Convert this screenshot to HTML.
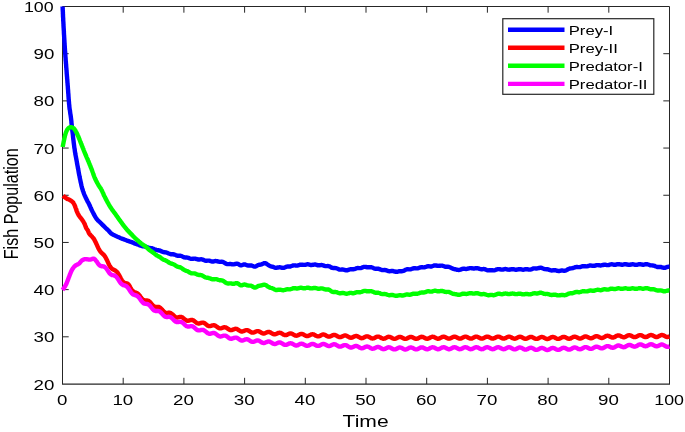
<!DOCTYPE html>
<html><head><meta charset="utf-8"><title>Fish Population</title>
<style>
html,body{margin:0;padding:0;background:#fff;}
body{width:685px;height:432px;overflow:hidden;}
svg{display:block;}
svg text{font-family:"Liberation Sans",sans-serif;fill:#000;}
</style></head>
<body>
<svg width="685" height="432" viewBox="0 0 685 432">
<rect x="0" y="0" width="685" height="432" fill="#fff"/>
<clipPath id="ax"><rect x="59.5" y="6.0" width="610.5" height="378.5"/></clipPath>
<path d="M62.5,384.0 L62.5,6.5 L669.5,6.5 L669.5,384.0" fill="none" stroke="#262626" stroke-width="1"/><line x1="62.0" y1="384.05" x2="670.0" y2="384.05" stroke="#262626" stroke-width="1.35"/>
<text transform="translate(62.10,405.40) scale(1.24,1)" font-size="15.1" text-anchor="middle">0</text>
<line x1="123.20" y1="384.0" x2="123.20" y2="377.8" stroke="#262626"/>
<line x1="123.20" y1="6.5" x2="123.20" y2="12.7" stroke="#262626"/>
<text transform="translate(122.80,405.40) scale(1.24,1)" font-size="15.1" text-anchor="middle">10</text>
<line x1="183.90" y1="384.0" x2="183.90" y2="377.8" stroke="#262626"/>
<line x1="183.90" y1="6.5" x2="183.90" y2="12.7" stroke="#262626"/>
<text transform="translate(183.50,405.40) scale(1.24,1)" font-size="15.1" text-anchor="middle">20</text>
<line x1="244.60" y1="384.0" x2="244.60" y2="377.8" stroke="#262626"/>
<line x1="244.60" y1="6.5" x2="244.60" y2="12.7" stroke="#262626"/>
<text transform="translate(244.20,405.40) scale(1.24,1)" font-size="15.1" text-anchor="middle">30</text>
<line x1="305.30" y1="384.0" x2="305.30" y2="377.8" stroke="#262626"/>
<line x1="305.30" y1="6.5" x2="305.30" y2="12.7" stroke="#262626"/>
<text transform="translate(304.90,405.40) scale(1.24,1)" font-size="15.1" text-anchor="middle">40</text>
<line x1="366.00" y1="384.0" x2="366.00" y2="377.8" stroke="#262626"/>
<line x1="366.00" y1="6.5" x2="366.00" y2="12.7" stroke="#262626"/>
<text transform="translate(365.60,405.40) scale(1.24,1)" font-size="15.1" text-anchor="middle">50</text>
<line x1="426.70" y1="384.0" x2="426.70" y2="377.8" stroke="#262626"/>
<line x1="426.70" y1="6.5" x2="426.70" y2="12.7" stroke="#262626"/>
<text transform="translate(426.30,405.40) scale(1.24,1)" font-size="15.1" text-anchor="middle">60</text>
<line x1="487.40" y1="384.0" x2="487.40" y2="377.8" stroke="#262626"/>
<line x1="487.40" y1="6.5" x2="487.40" y2="12.7" stroke="#262626"/>
<text transform="translate(487.00,405.40) scale(1.24,1)" font-size="15.1" text-anchor="middle">70</text>
<line x1="548.10" y1="384.0" x2="548.10" y2="377.8" stroke="#262626"/>
<line x1="548.10" y1="6.5" x2="548.10" y2="12.7" stroke="#262626"/>
<text transform="translate(547.70,405.40) scale(1.24,1)" font-size="15.1" text-anchor="middle">80</text>
<line x1="608.80" y1="384.0" x2="608.80" y2="377.8" stroke="#262626"/>
<line x1="608.80" y1="6.5" x2="608.80" y2="12.7" stroke="#262626"/>
<text transform="translate(608.40,405.40) scale(1.24,1)" font-size="15.1" text-anchor="middle">90</text>
<text transform="translate(669.10,405.40) scale(1.18,1)" font-size="15.1" text-anchor="middle">100</text>
<text transform="translate(54.30,389.60) scale(1.24,1)" font-size="15.1" text-anchor="end">20</text>
<line x1="62.5" y1="336.81" x2="68.7" y2="336.81" stroke="#262626"/>
<line x1="669.5" y1="336.81" x2="663.3" y2="336.81" stroke="#262626"/>
<text transform="translate(54.30,342.41) scale(1.24,1)" font-size="15.1" text-anchor="end">30</text>
<line x1="62.5" y1="289.62" x2="68.7" y2="289.62" stroke="#262626"/>
<line x1="669.5" y1="289.62" x2="663.3" y2="289.62" stroke="#262626"/>
<text transform="translate(54.30,295.23) scale(1.24,1)" font-size="15.1" text-anchor="end">40</text>
<line x1="62.5" y1="242.44" x2="68.7" y2="242.44" stroke="#262626"/>
<line x1="669.5" y1="242.44" x2="663.3" y2="242.44" stroke="#262626"/>
<text transform="translate(54.30,248.04) scale(1.24,1)" font-size="15.1" text-anchor="end">50</text>
<line x1="62.5" y1="195.25" x2="68.7" y2="195.25" stroke="#262626"/>
<line x1="669.5" y1="195.25" x2="663.3" y2="195.25" stroke="#262626"/>
<text transform="translate(54.30,200.85) scale(1.24,1)" font-size="15.1" text-anchor="end">60</text>
<line x1="62.5" y1="148.06" x2="68.7" y2="148.06" stroke="#262626"/>
<line x1="669.5" y1="148.06" x2="663.3" y2="148.06" stroke="#262626"/>
<text transform="translate(54.30,153.66) scale(1.24,1)" font-size="15.1" text-anchor="end">70</text>
<line x1="62.5" y1="100.88" x2="68.7" y2="100.88" stroke="#262626"/>
<line x1="669.5" y1="100.88" x2="663.3" y2="100.88" stroke="#262626"/>
<text transform="translate(54.30,106.47) scale(1.24,1)" font-size="15.1" text-anchor="end">80</text>
<line x1="62.5" y1="53.69" x2="68.7" y2="53.69" stroke="#262626"/>
<line x1="669.5" y1="53.69" x2="663.3" y2="53.69" stroke="#262626"/>
<text transform="translate(54.30,59.29) scale(1.24,1)" font-size="15.1" text-anchor="end">90</text>
<text transform="translate(53.60,12.10) scale(1.18,1)" font-size="15.1" text-anchor="end">100</text>
<g clip-path="url(#ax)">
<path d="M62.6,6.5 L62.6,7.3 L62.7,8.1 L62.7,8.9 L62.7,9.7 L62.8,10.5 L62.8,11.3 L62.9,12.1 L62.9,13.0 L62.9,13.8 L63.0,14.6 L63.0,15.4 L63.0,16.2 L63.1,17.0 L63.1,17.8 L63.2,18.6 L63.2,19.4 L63.2,20.2 L63.3,21.0 L63.3,21.8 L63.4,22.6 L63.4,23.4 L63.5,24.2 L63.5,25.0 L63.5,25.8 L63.6,26.7 L63.6,27.5 L63.7,28.3 L63.7,29.1 L63.8,29.9 L63.8,30.7 L63.9,31.5 L63.9,32.3 L63.9,33.1 L64.0,33.9 L64.0,34.7 L64.1,35.5 L64.1,36.3 L64.2,37.1 L64.2,37.9 L64.3,38.7 L64.3,39.5 L64.4,40.3 L64.4,41.2 L64.5,42.0 L64.5,42.8 L64.6,43.6 L64.6,44.4 L64.7,45.2 L64.7,46.0 L64.8,46.8 L64.8,47.6 L64.9,48.4 L64.9,49.2 L65.0,50.0 L65.0,50.8 L65.1,51.6 L65.2,52.4 L65.2,53.2 L65.3,54.0 L65.3,54.8 L65.4,55.6 L65.4,56.5 L65.5,57.3 L65.6,58.1 L65.6,58.9 L65.7,59.7 L65.7,60.5 L65.8,61.3 L65.9,62.1 L65.9,62.9 L66.0,63.7 L66.1,64.5 L66.1,65.3 L66.2,66.1 L66.2,66.9 L66.3,67.7 L66.4,68.5 L66.4,69.3 L66.5,70.1 L66.6,70.9 L66.6,71.7 L66.7,72.5 L66.7,73.3 L66.8,74.2 L66.9,75.0 L66.9,75.8 L67.0,76.6 L67.1,77.4 L67.1,78.2 L67.2,79.0 L67.3,79.8 L67.3,80.6 L67.4,81.4 L67.4,82.2 L67.5,83.0 L67.6,83.8 L67.6,84.6 L67.7,85.4 L67.8,86.2 L67.8,87.0 L67.9,87.8 L67.9,88.6 L68.0,89.4 L68.1,90.2 L68.1,91.1 L68.2,91.9 L68.2,92.7 L68.3,93.5 L68.4,94.3 L68.4,95.1 L68.5,95.9 L68.5,96.7 L68.6,97.5 L68.6,98.3 L68.7,99.1 L68.8,99.9 L68.8,100.7 L68.9,101.5 L69.0,102.3 L69.0,103.1 L69.1,103.9 L69.2,104.7 L69.3,105.5 L69.3,106.3 L69.4,107.1 L69.5,107.9 L69.6,108.7 L69.7,109.5 L69.9,110.3 L70.0,111.1 L70.1,111.9 L70.2,112.7 L70.3,113.5 L70.4,114.3 L70.6,115.1 L70.7,115.9 L70.8,116.7 L70.9,117.5 L71.0,118.3 L71.1,119.1 L71.2,119.9 L71.3,120.7 L71.4,121.5 L71.4,122.3 L71.5,123.1 L71.6,123.9 L71.7,124.7 L71.8,125.5 L71.9,126.3 L72.0,127.1 L72.1,127.9 L72.2,128.8 L72.3,129.6 L72.3,130.4 L72.4,131.2 L72.5,132.0 L72.6,132.8 L72.7,133.6 L72.8,134.4 L72.9,135.2 L73.0,136.0 L73.0,136.8 L73.1,137.6 L73.2,138.4 L73.3,139.2 L73.4,140.0 L73.5,140.8 L73.6,141.6 L73.7,142.4 L73.8,143.2 L73.9,144.0 L74.0,144.8 L74.1,145.6 L74.2,146.4 L74.3,147.2 L74.4,148.0 L74.6,148.8 L74.7,149.6 L74.8,150.4 L74.9,151.2 L75.0,152.0 L75.2,152.8 L75.3,153.6 L75.4,154.4 L75.6,155.2 L75.7,156.0 L75.9,156.7 L76.0,157.5 L76.2,158.3 L76.3,159.1 L76.5,159.9 L76.6,160.7 L76.8,161.5 L76.9,162.3 L77.0,163.1 L77.2,163.9 L77.3,164.7 L77.5,165.5 L77.6,166.3 L77.8,167.1 L77.9,167.9 L78.1,168.7 L78.2,169.4 L78.4,170.2 L78.5,171.0 L78.6,171.8 L78.8,172.6 L78.9,173.4 L79.1,174.2 L79.2,175.0 L79.4,175.8 L79.6,176.6 L79.7,177.4 L79.9,178.2 L80.0,179.0 L80.2,179.7 L80.4,180.5 L80.5,181.3 L80.7,182.1 L80.9,182.9 L81.1,183.7 L81.2,184.5 L81.4,185.3 L81.6,186.1 L81.8,186.8 L82.0,187.6 L82.2,188.4 L82.5,189.2 L82.7,189.9 L82.9,190.7 L83.2,191.5 L83.5,192.2 L83.7,193.0 L84.0,193.7 L84.3,194.5 L84.6,195.2 L85.0,196.0 L85.3,196.7 L85.6,197.5 L86.0,198.2 L86.3,198.9 L86.7,199.6 L87.0,200.3 L87.4,201.1 L87.8,201.8 L88.2,202.5 L88.6,203.2 L88.9,203.9 L89.3,204.6 L89.6,205.4 L90.0,206.1 L90.3,206.8 L90.6,207.6 L90.9,208.3 L91.3,209.1 L91.6,209.8 L92.0,210.5 L92.3,211.2 L92.7,212.0 L93.1,212.7 L93.4,213.4 L93.8,214.1 L94.2,214.9 L94.6,215.6 L95.0,216.3 L95.4,217.0 L95.8,217.7 L96.2,218.3 L96.7,219.0 L97.2,219.6 L97.7,220.2 L98.3,220.7 L98.9,221.3 L99.5,221.9 L100.1,222.4 L100.7,223.0 L101.2,223.5 L101.8,224.1 L102.4,224.7 L102.9,225.3 L103.5,225.8 L104.1,226.4 L104.7,227.0 L105.2,227.5 L105.8,228.1 L106.4,228.6 L107.0,229.2 L107.6,229.7 L108.2,230.3 L108.8,230.9 L109.3,231.5 L109.8,232.1 L110.4,232.7 L110.9,233.3 L111.6,233.7 L112.2,234.2 L112.9,234.6 L113.6,234.9 L114.4,235.3 L115.1,235.6 L115.9,236.0 L116.6,236.3 L117.3,236.7 L118.1,237.0 L118.8,237.3 L119.5,237.6 L120.3,238.0 L121.0,238.3 L121.8,238.6 L122.5,238.9 L123.3,239.1 L124.0,239.4 L124.8,239.7 L125.6,240.0 L126.3,240.3 L127.1,240.6 L127.8,240.9 L128.6,241.1 L129.4,241.4 L130.1,241.6 L130.9,241.9 L131.6,242.1 L132.4,242.4 L133.1,242.8 L133.9,243.1 L134.6,243.5 L135.4,243.8 L136.1,244.0 L136.9,244.3 L137.6,244.5 L138.4,244.8 L139.1,245.1 L139.9,245.4 L140.7,245.7 L141.5,245.9 L142.2,246.1 L143.0,246.3 L143.8,246.4 L144.6,246.5 L145.4,246.6 L146.2,246.8 L147.0,247.1 L147.8,247.4 L148.5,247.6 L149.3,247.8 L150.1,248.0 L150.9,248.1 L151.7,248.2 L152.4,248.4 L153.2,248.6 L154.0,249.0 L154.7,249.3 L155.5,249.6 L156.3,249.9 L157.1,250.1 L157.8,250.2 L158.6,250.3 L159.4,250.5 L160.2,250.7 L160.9,251.1 L161.7,251.4 L162.5,251.8 L163.2,252.0 L164.0,252.2 L164.8,252.3 L165.6,252.4 L166.3,252.5 L167.1,252.8 L167.9,253.1 L168.7,253.5 L169.5,253.8 L170.2,254.1 L171.0,254.2 L171.8,254.2 L172.6,254.2 L173.4,254.3 L174.2,254.5 L175.0,254.8 L175.7,255.1 L176.5,255.4 L177.3,255.7 L178.1,255.7 L178.9,255.7 L179.7,255.7 L180.5,255.7 L181.3,256.0 L182.1,256.3 L182.8,256.7 L183.6,257.1 L184.4,257.4 L185.2,257.5 L186.0,257.5 L186.7,257.5 L187.5,257.6 L188.3,257.8 L189.1,258.1 L189.9,258.5 L190.7,258.8 L191.5,258.9 L192.3,258.9 L193.1,258.7 L193.9,258.6 L194.7,258.6 L195.5,258.7 L196.3,259.0 L197.1,259.2 L197.9,259.5 L198.7,259.5 L199.5,259.5 L200.3,259.4 L201.1,259.3 L201.9,259.4 L202.7,259.6 L203.5,259.9 L204.3,260.3 L205.1,260.6 L205.9,260.7 L206.7,260.7 L207.5,260.6 L208.3,260.6 L209.1,260.6 L209.9,260.8 L210.7,261.1 L211.5,261.3 L212.3,261.5 L213.1,261.5 L213.9,261.3 L214.7,261.1 L215.5,261.0 L216.3,261.1 L217.1,261.2 L218.0,261.5 L218.8,261.7 L219.6,261.9 L220.3,261.9 L221.1,261.8 L221.9,261.8 L222.7,261.9 L223.5,262.2 L224.2,262.6 L225.0,263.1 L225.8,263.6 L226.6,263.9 L227.3,264.1 L228.1,264.1 L228.9,264.1 L229.7,264.0 L230.5,264.0 L231.3,264.1 L232.1,264.3 L232.9,264.4 L233.7,264.4 L234.5,264.2 L235.3,264.0 L236.1,263.7 L236.9,263.6 L237.7,263.8 L238.5,264.2 L239.3,264.7 L240.0,265.2 L240.8,265.4 L241.6,265.3 L242.4,265.0 L243.2,264.6 L244.0,264.4 L244.8,264.5 L245.6,264.7 L246.4,265.0 L247.2,265.4 L248.0,265.5 L248.8,265.5 L249.6,265.5 L250.4,265.5 L251.2,265.5 L252.0,265.7 L252.8,266.0 L253.6,266.4 L254.4,266.6 L255.2,266.6 L256.0,266.3 L256.7,265.9 L257.5,265.4 L258.3,265.0 L259.0,264.8 L259.8,264.7 L260.6,264.6 L261.3,264.4 L262.1,264.1 L262.9,263.7 L263.6,263.4 L264.4,263.1 L265.2,263.1 L265.9,263.4 L266.7,263.9 L267.4,264.5 L268.2,265.0 L268.9,265.4 L269.6,265.8 L270.3,266.2 L270.9,266.4 L271.7,266.6 L272.4,266.7 L273.2,266.9 L274.0,267.3 L274.8,267.6 L275.6,267.8 L276.4,267.9 L277.2,267.7 L278.0,267.5 L278.8,267.4 L279.7,267.3 L280.5,267.4 L281.3,267.6 L282.1,267.8 L282.9,267.9 L283.7,267.8 L284.5,267.6 L285.3,267.2 L286.1,266.9 L286.8,266.6 L287.6,266.5 L288.4,266.5 L289.2,266.5 L290.0,266.5 L290.8,266.3 L291.6,266.0 L292.4,265.7 L293.2,265.5 L294.0,265.4 L294.8,265.4 L295.6,265.5 L296.4,265.6 L297.2,265.6 L298.0,265.4 L298.8,265.1 L299.6,264.9 L300.4,264.6 L301.2,264.6 L302.0,264.7 L302.8,264.8 L303.6,264.9 L304.5,264.9 L305.3,264.8 L306.1,264.6 L306.9,264.4 L307.7,264.3 L308.5,264.4 L309.3,264.6 L310.1,264.8 L310.9,265.0 L311.7,265.0 L312.5,264.9 L313.3,264.7 L314.1,264.6 L314.9,264.5 L315.7,264.7 L316.5,264.9 L317.4,265.2 L318.2,265.3 L319.0,265.3 L319.8,265.2 L320.6,265.1 L321.4,265.0 L322.2,265.1 L323.0,265.3 L323.8,265.6 L324.6,265.9 L325.4,266.1 L326.2,266.1 L327.0,266.1 L327.8,266.0 L328.5,266.1 L329.3,266.3 L330.1,266.7 L330.9,267.1 L331.6,267.6 L332.4,267.9 L333.2,268.0 L334.0,268.1 L334.8,268.0 L335.5,268.1 L336.3,268.2 L337.1,268.5 L337.9,268.9 L338.7,269.3 L339.5,269.5 L340.3,269.6 L341.1,269.6 L341.9,269.5 L342.7,269.5 L343.5,269.6 L344.3,269.8 L345.1,270.1 L345.9,270.2 L346.7,270.3 L347.5,270.2 L348.3,269.9 L349.1,269.6 L349.9,269.4 L350.7,269.3 L351.5,269.3 L352.3,269.3 L353.1,269.4 L353.9,269.2 L354.7,269.0 L355.5,268.7 L356.3,268.3 L357.1,268.1 L357.9,268.0 L358.7,268.1 L359.5,268.1 L360.3,268.1 L361.1,268.0 L361.9,267.7 L362.7,267.3 L363.5,267.0 L364.3,266.9 L365.1,266.9 L365.9,267.0 L366.7,267.2 L367.5,267.3 L368.3,267.3 L369.1,267.3 L369.9,267.2 L370.7,267.1 L371.4,267.2 L372.2,267.5 L373.0,267.9 L373.8,268.3 L374.6,268.6 L375.4,268.7 L376.2,268.7 L377.0,268.7 L377.8,268.7 L378.6,268.8 L379.4,269.1 L380.2,269.4 L381.0,269.7 L381.8,270.0 L382.6,270.1 L383.4,270.1 L384.2,270.0 L384.9,270.0 L385.7,270.1 L386.5,270.4 L387.3,270.7 L388.1,271.0 L388.9,271.2 L389.7,271.2 L390.5,271.1 L391.3,271.0 L392.1,270.9 L393.0,271.0 L393.8,271.3 L394.6,271.5 L395.4,271.8 L396.2,271.8 L397.0,271.8 L397.8,271.6 L398.6,271.4 L399.4,271.2 L400.2,271.1 L400.9,271.2 L401.7,271.2 L402.5,271.1 L403.3,270.9 L404.1,270.6 L404.9,270.2 L405.7,269.7 L406.4,269.4 L407.2,269.3 L408.0,269.3 L408.8,269.4 L409.6,269.4 L410.4,269.3 L411.2,269.1 L412.0,268.8 L412.8,268.5 L413.6,268.3 L414.4,268.2 L415.2,268.3 L416.0,268.4 L416.8,268.4 L417.6,268.3 L418.4,268.1 L419.2,267.8 L420.0,267.5 L420.8,267.3 L421.6,267.3 L422.4,267.3 L423.2,267.4 L424.0,267.4 L424.8,267.3 L425.6,267.0 L426.4,266.7 L427.2,266.4 L428.0,266.3 L428.8,266.3 L429.6,266.4 L430.4,266.5 L431.2,266.5 L432.0,266.3 L432.8,266.0 L433.6,265.7 L434.4,265.5 L435.2,265.4 L436.0,265.5 L436.8,265.7 L437.6,265.8 L438.4,265.9 L439.3,265.8 L440.1,265.7 L440.9,265.6 L441.7,265.6 L442.5,265.7 L443.3,266.0 L444.1,266.3 L444.9,266.6 L445.7,266.8 L446.5,266.8 L447.2,266.8 L448.0,266.8 L448.8,266.9 L449.6,267.1 L450.4,267.5 L451.2,267.9 L451.9,268.3 L452.7,268.6 L453.4,268.9 L454.2,269.1 L454.9,269.2 L455.7,269.4 L456.5,269.6 L457.2,269.8 L458.0,269.9 L458.8,270.0 L459.6,269.9 L460.4,269.7 L461.2,269.3 L462.0,269.0 L462.8,268.8 L463.6,268.7 L464.4,268.8 L465.2,268.9 L466.1,269.0 L466.9,268.9 L467.7,268.7 L468.5,268.5 L469.3,268.2 L470.1,268.1 L470.9,268.1 L471.7,268.2 L472.5,268.4 L473.3,268.5 L474.1,268.5 L474.9,268.4 L475.7,268.2 L476.5,268.1 L477.3,268.1 L478.1,268.3 L478.9,268.6 L479.7,268.9 L480.5,269.1 L481.3,269.2 L482.1,269.2 L482.9,269.1 L483.7,269.0 L484.5,269.1 L485.3,269.4 L486.1,269.7 L486.9,270.1 L487.7,270.3 L488.5,270.4 L489.3,270.3 L490.1,270.2 L490.9,270.2 L491.7,270.2 L492.5,270.3 L493.3,270.4 L494.1,270.4 L494.9,270.2 L495.6,269.9 L496.4,269.5 L497.2,269.3 L498.0,269.1 L498.8,269.1 L499.7,269.2 L500.5,269.4 L501.3,269.6 L502.1,269.6 L502.9,269.5 L503.7,269.3 L504.5,269.1 L505.3,269.0 L506.1,269.1 L506.9,269.3 L507.7,269.5 L508.5,269.6 L509.3,269.7 L510.1,269.5 L511.0,269.3 L511.8,269.2 L512.6,269.1 L513.4,269.2 L514.2,269.4 L515.0,269.6 L515.8,269.7 L516.6,269.7 L517.4,269.5 L518.2,269.3 L519.0,269.1 L519.8,269.1 L520.6,269.2 L521.5,269.4 L522.3,269.6 L523.1,269.7 L523.9,269.6 L524.7,269.4 L525.5,269.2 L526.3,269.1 L527.1,269.1 L527.9,269.3 L528.7,269.5 L529.5,269.6 L530.3,269.6 L531.1,269.4 L531.9,269.1 L532.7,268.7 L533.5,268.5 L534.3,268.4 L535.1,268.4 L535.9,268.5 L536.7,268.5 L537.5,268.4 L538.3,268.2 L539.1,268.0 L539.9,267.8 L540.7,267.7 L541.5,267.9 L542.3,268.2 L543.1,268.5 L543.9,268.9 L544.7,269.1 L545.5,269.1 L546.2,269.2 L547.0,269.2 L547.8,269.3 L548.6,269.6 L549.4,269.9 L550.2,270.2 L551.0,270.4 L551.8,270.5 L552.6,270.4 L553.4,270.2 L554.2,270.2 L555.1,270.2 L555.9,270.4 L556.7,270.6 L557.5,270.9 L558.3,271.0 L559.1,271.0 L559.9,270.8 L560.7,270.6 L561.5,270.5 L562.3,270.5 L563.1,270.6 L563.9,270.7 L564.6,270.7 L565.4,270.6 L566.2,270.3 L567.0,269.9 L567.7,269.4 L568.5,269.0 L569.3,268.7 L570.1,268.5 L570.8,268.4 L571.6,268.4 L572.4,268.2 L573.2,268.0 L574.0,267.7 L574.8,267.4 L575.6,267.1 L576.4,267.0 L577.2,267.0 L578.0,267.1 L578.8,267.1 L579.6,267.1 L580.4,267.0 L581.2,266.7 L582.0,266.4 L582.8,266.2 L583.6,266.1 L584.4,266.2 L585.2,266.3 L586.0,266.4 L586.8,266.4 L587.6,266.2 L588.4,266.0 L589.2,265.7 L590.0,265.5 L590.8,265.5 L591.6,265.6 L592.4,265.8 L593.2,265.9 L594.0,265.8 L594.9,265.7 L595.7,265.4 L596.5,265.2 L597.3,265.1 L598.1,265.1 L598.9,265.2 L599.7,265.4 L600.5,265.5 L601.3,265.4 L602.1,265.2 L602.9,265.0 L603.7,264.8 L604.5,264.7 L605.3,264.8 L606.1,264.9 L606.9,265.1 L607.7,265.1 L608.6,265.0 L609.4,264.8 L610.2,264.5 L611.0,264.4 L611.8,264.3 L612.6,264.4 L613.4,264.6 L614.2,264.8 L615.0,264.8 L615.8,264.7 L616.6,264.4 L617.4,264.2 L618.2,264.1 L619.0,264.1 L619.8,264.3 L620.7,264.5 L621.5,264.7 L622.3,264.7 L623.1,264.6 L623.9,264.4 L624.7,264.2 L625.5,264.2 L626.3,264.3 L627.1,264.5 L627.9,264.7 L628.7,264.8 L629.5,264.8 L630.3,264.7 L631.1,264.5 L632.0,264.3 L632.8,264.3 L633.6,264.4 L634.4,264.6 L635.2,264.8 L636.0,264.9 L636.8,264.8 L637.6,264.6 L638.4,264.4 L639.2,264.2 L640.0,264.2 L640.8,264.3 L641.7,264.5 L642.5,264.7 L643.3,264.7 L644.1,264.6 L644.9,264.4 L645.7,264.2 L646.5,264.1 L647.3,264.2 L648.1,264.5 L648.9,264.8 L649.6,265.1 L650.4,265.3 L651.2,265.4 L652.0,265.4 L652.8,265.5 L653.6,265.6 L654.4,265.8 L655.2,266.2 L656.0,266.5 L656.8,266.8 L657.6,267.0 L658.4,267.0 L659.2,267.0 L660.0,266.9 L660.7,267.0 L661.5,267.2 L662.3,267.5 L663.1,267.7 L663.9,267.9 L664.7,267.9 L665.5,267.6 L666.3,267.3 L667.1,267.0 L667.9,266.8 L668.7,266.6 L669.5,266.6" fill="none" stroke="#0000ff" stroke-width="4.4" stroke-linejoin="round" stroke-linecap="butt"/>
<path d="M63.1,195.6 L63.4,195.9 L63.6,196.1 L63.9,196.4 L64.1,196.7 L64.4,196.9 L64.7,197.2 L65.0,197.4 L65.3,197.6 L65.6,197.8 L65.9,198.0 L66.2,198.2 L66.5,198.4 L66.8,198.6 L67.1,198.8 L67.5,198.9 L67.8,199.1 L68.1,199.2 L68.5,199.3 L68.8,199.5 L69.2,199.6 L69.5,199.8 L69.8,200.0 L70.1,200.2 L70.4,200.4 L70.7,200.6 L71.1,200.8 L71.4,201.0 L71.7,201.2 L72.0,201.5 L72.3,201.7 L72.5,201.9 L72.8,202.2 L73.0,202.5 L73.3,202.7 L73.5,203.0 L73.6,203.3 L73.8,203.6 L74.0,203.9 L74.2,204.3 L74.3,204.6 L74.5,204.9 L74.6,205.3 L74.8,205.6 L74.9,206.0 L75.1,206.3 L75.2,206.7 L75.3,207.0 L75.5,207.4 L75.6,207.7 L75.7,208.1 L75.8,208.4 L76.0,208.8 L76.1,209.1 L76.2,209.5 L76.3,209.8 L76.4,210.2 L76.5,210.5 L76.6,210.9 L76.8,211.2 L76.9,211.5 L77.1,211.9 L77.2,212.2 L77.4,212.5 L77.5,212.9 L77.7,213.2 L77.8,213.5 L78.0,213.9 L78.2,214.2 L78.3,214.5 L78.5,214.8 L78.7,215.2 L78.9,215.5 L79.1,215.8 L79.3,216.1 L79.5,216.4 L79.7,216.7 L79.9,217.0 L80.2,217.3 L80.4,217.5 L80.6,217.8 L80.9,218.1 L81.1,218.4 L81.3,218.7 L81.6,219.0 L81.8,219.3 L82.0,219.6 L82.2,219.9 L82.4,220.2 L82.6,220.5 L82.8,220.8 L83.0,221.1 L83.2,221.4 L83.4,221.7 L83.6,222.1 L83.8,222.4 L84.0,222.7 L84.1,223.0 L84.3,223.3 L84.5,223.7 L84.6,224.0 L84.8,224.3 L84.9,224.7 L85.1,225.0 L85.2,225.4 L85.3,225.7 L85.4,226.1 L85.6,226.4 L85.7,226.8 L85.8,227.1 L85.9,227.5 L86.1,227.8 L86.2,228.1 L86.4,228.4 L86.6,228.8 L86.8,229.0 L87.0,229.3 L87.3,229.6 L87.5,229.9 L87.7,230.2 L87.9,230.5 L88.0,230.8 L88.2,231.2 L88.3,231.5 L88.4,231.9 L88.6,232.2 L88.7,232.6 L88.8,232.9 L89.0,233.2 L89.2,233.5 L89.4,233.8 L89.6,234.1 L89.9,234.4 L90.1,234.7 L90.4,234.9 L90.6,235.2 L90.9,235.5 L91.1,235.7 L91.4,236.0 L91.7,236.3 L91.9,236.5 L92.0,236.6 L92.5,237.2 L93.0,237.7 L93.5,238.4 L94.0,239.1 L94.5,239.9 L95.0,240.9 L95.5,241.9 L96.0,243.0 L96.5,244.1 L97.0,245.2 L97.5,246.3 L98.0,247.4 L98.5,248.5 L99.0,249.4 L99.5,250.3 L100.0,251.0 L100.5,251.7 L101.0,252.2 L101.5,252.8 L102.0,253.2 L102.5,253.7 L103.0,254.1 L103.5,254.6 L104.0,255.1 L104.5,255.8 L105.0,256.5 L105.5,257.3 L106.0,258.2 L106.5,259.2 L107.0,260.2 L107.5,261.3 L108.0,262.4 L108.5,263.5 L109.0,264.5 L109.5,265.5 L110.0,266.4 L110.5,267.1 L111.0,267.8 L111.5,268.3 L112.0,268.8 L112.5,269.1 L113.0,269.4 L113.5,269.7 L114.0,269.9 L114.5,270.2 L115.0,270.4 L115.5,270.7 L116.0,271.1 L116.5,271.5 L117.0,272.0 L117.5,272.6 L118.0,273.3 L118.5,274.1 L119.0,274.9 L119.5,275.9 L120.0,276.8 L120.5,277.8 L121.0,278.8 L121.5,279.7 L122.0,280.5 L122.5,281.2 L123.0,281.8 L123.5,282.3 L124.0,282.7 L124.5,283.0 L125.0,283.1 L125.5,283.2 L126.0,283.2 L126.5,283.3 L127.0,283.4 L127.5,283.7 L128.0,284.0 L128.5,284.5 L129.0,285.1 L129.5,285.9 L130.0,286.8 L130.5,287.8 L131.0,288.7 L131.5,289.5 L132.0,290.2 L132.5,290.8 L133.0,291.3 L133.5,291.7 L134.0,292.0 L134.5,292.2 L135.0,292.4 L135.5,292.5 L136.0,292.7 L136.5,292.8 L137.0,293.1 L137.5,293.4 L138.0,293.8 L138.5,294.3 L139.0,294.8 L139.5,295.4 L140.0,296.1 L140.5,296.8 L141.0,297.4 L141.5,298.1 L142.0,298.7 L142.5,299.2 L143.0,299.6 L143.5,300.0 L144.0,300.2 L144.5,300.3 L145.0,300.4 L145.5,300.5 L146.0,300.5 L146.5,300.5 L147.0,300.5 L147.5,300.6 L148.0,300.7 L148.5,300.9 L149.0,301.2 L149.5,301.6 L150.0,302.1 L150.5,302.6 L151.0,303.2 L151.5,303.8 L152.0,304.4 L152.5,305.0 L153.0,305.5 L153.5,305.9 L154.0,306.3 L154.5,306.6 L155.0,306.7 L155.5,306.9 L156.0,306.9 L156.5,306.9 L157.0,306.9 L157.5,306.9 L158.0,306.9 L158.5,306.9 L159.0,307.1 L159.5,307.3 L160.0,307.6 L160.5,308.0 L161.0,308.5 L161.5,309.0 L162.0,309.6 L162.5,310.1 L163.0,310.7 L163.5,311.3 L164.0,311.7 L164.5,312.2 L165.0,312.5 L165.5,312.7 L166.0,312.9 L166.5,312.9 L167.0,312.9 L167.5,312.9 L168.0,312.8 L168.5,312.8 L169.0,312.7 L169.5,312.7 L170.0,312.8 L170.5,313.0 L171.0,313.3 L171.5,313.6 L172.0,314.0 L172.5,314.4 L173.0,314.9 L173.5,315.4 L174.0,315.9 L174.5,316.4 L175.0,316.7 L175.5,317.1 L176.0,317.3 L176.5,317.4 L177.0,317.5 L177.5,317.5 L178.0,317.4 L178.5,317.3 L179.0,317.1 L179.5,317.0 L180.0,316.9 L180.5,316.9 L181.0,316.9 L181.5,317.0 L182.0,317.2 L182.5,317.5 L183.0,317.9 L183.5,318.3 L184.0,318.7 L184.5,319.1 L185.0,319.5 L185.5,319.9 L186.0,320.2 L186.5,320.5 L187.0,320.7 L187.5,320.7 L188.0,320.7 L188.5,320.7 L189.0,320.6 L189.5,320.4 L190.0,320.2 L190.5,320.1 L191.0,320.0 L191.5,319.9 L192.0,319.9 L192.5,320.0 L193.0,320.2 L193.5,320.5 L194.0,320.8 L194.5,321.2 L195.0,321.6 L195.5,322.0 L196.0,322.4 L196.5,322.8 L197.0,323.1 L197.5,323.3 L198.0,323.4 L198.5,323.5 L199.0,323.5 L199.5,323.4 L200.0,323.2 L200.5,323.1 L201.0,322.9 L201.5,322.8 L202.0,322.7 L202.5,322.6 L203.0,322.6 L203.5,322.8 L204.0,322.9 L204.5,323.2 L205.0,323.5 L205.5,323.9 L206.0,324.3 L206.5,324.7 L207.0,325.1 L207.5,325.5 L208.0,325.8 L208.5,326.0 L209.0,326.1 L209.5,326.1 L210.0,326.1 L210.5,326.0 L211.0,325.9 L211.5,325.7 L212.0,325.5 L212.5,325.4 L213.0,325.3 L213.5,325.2 L214.0,325.2 L214.5,325.3 L215.0,325.5 L215.5,325.8 L216.0,326.1 L216.5,326.5 L217.0,326.9 L217.5,327.2 L218.0,327.6 L218.5,327.9 L219.0,328.2 L219.5,328.3 L220.0,328.4 L220.5,328.4 L221.0,328.3 L221.5,328.2 L222.0,328.0 L222.5,327.8 L223.0,327.6 L223.5,327.5 L224.0,327.3 L224.5,327.3 L225.0,327.3 L225.5,327.4 L226.0,327.6 L226.5,327.8 L227.0,328.1 L227.5,328.5 L228.0,328.8 L228.5,329.2 L229.0,329.5 L229.5,329.8 L230.0,330.0 L230.5,330.1 L231.0,330.2 L231.5,330.1 L232.0,330.0 L232.5,329.8 L233.0,329.6 L233.5,329.4 L234.0,329.2 L234.5,329.0 L235.0,328.9 L235.5,328.8 L236.0,328.8 L236.5,328.9 L237.0,329.1 L237.5,329.3 L238.0,329.6 L238.5,330.0 L239.0,330.3 L239.5,330.6 L240.0,330.9 L240.5,331.2 L241.0,331.4 L241.5,331.5 L242.0,331.5 L242.5,331.5 L243.0,331.3 L243.5,331.1 L244.0,330.9 L244.5,330.7 L245.0,330.5 L245.5,330.3 L246.0,330.2 L246.5,330.1 L247.0,330.1 L247.5,330.2 L248.0,330.4 L248.5,330.6 L249.0,330.9 L249.5,331.2 L250.0,331.6 L250.5,331.9 L251.0,332.2 L251.5,332.4 L252.0,332.6 L252.5,332.6 L253.0,332.6 L253.5,332.5 L254.0,332.4 L254.5,332.2 L255.0,332.0 L255.5,331.7 L256.0,331.5 L256.5,331.3 L257.0,331.2 L257.5,331.1 L258.0,331.1 L258.5,331.2 L259.0,331.4 L259.5,331.6 L260.0,331.9 L260.5,332.2 L261.0,332.5 L261.5,332.8 L262.0,333.1 L262.5,333.3 L263.0,333.5 L263.5,333.5 L264.0,333.5 L264.5,333.4 L265.0,333.2 L265.5,333.0 L266.0,332.8 L266.5,332.5 L267.0,332.3 L267.5,332.1 L268.0,332.0 L268.5,331.9 L269.0,331.9 L269.5,332.0 L270.0,332.2 L270.5,332.5 L271.0,332.8 L271.5,333.1 L272.0,333.4 L272.5,333.7 L273.0,334.0 L273.5,334.2 L274.0,334.3 L274.5,334.3 L275.0,334.3 L275.5,334.2 L276.0,334.0 L276.5,333.8 L277.0,333.6 L277.5,333.3 L278.0,333.1 L278.5,332.9 L279.0,332.8 L279.5,332.7 L280.0,332.8 L280.5,332.9 L281.0,333.1 L281.5,333.3 L282.0,333.6 L282.5,333.9 L283.0,334.3 L283.5,334.6 L284.0,334.8 L284.5,335.0 L285.0,335.1 L285.5,335.1 L286.0,335.1 L286.5,334.9 L287.0,334.8 L287.5,334.5 L288.0,334.3 L288.5,334.0 L289.0,333.8 L289.5,333.6 L290.0,333.5 L290.5,333.4 L291.0,333.5 L291.5,333.6 L292.0,333.8 L292.5,334.0 L293.0,334.3 L293.5,334.6 L294.0,334.9 L294.5,335.2 L295.0,335.4 L295.5,335.6 L296.0,335.7 L296.5,335.7 L297.0,335.6 L297.5,335.5 L298.0,335.3 L298.5,335.0 L299.0,334.7 L299.5,334.5 L300.0,334.2 L300.5,334.1 L301.0,334.0 L301.5,333.9 L302.0,334.0 L302.5,334.1 L303.0,334.3 L303.5,334.5 L304.0,334.8 L304.5,335.1 L305.0,335.4 L305.5,335.7 L306.0,335.9 L306.5,336.0 L307.0,336.1 L307.5,336.1 L308.0,336.0 L308.5,335.8 L309.0,335.6 L309.5,335.4 L310.0,335.1 L310.5,334.8 L311.0,334.6 L311.5,334.4 L312.0,334.3 L312.5,334.3 L313.0,334.3 L313.5,334.4 L314.0,334.6 L314.5,334.9 L315.0,335.2 L315.5,335.5 L316.0,335.8 L316.5,336.0 L317.0,336.2 L317.5,336.3 L318.0,336.4 L318.5,336.4 L319.0,336.2 L319.5,336.1 L320.0,335.8 L320.5,335.6 L321.0,335.3 L321.5,335.0 L322.0,334.8 L322.5,334.6 L323.0,334.5 L323.5,334.5 L324.0,334.6 L324.5,334.7 L325.0,334.9 L325.5,335.2 L326.0,335.5 L326.5,335.8 L327.0,336.1 L327.5,336.3 L328.0,336.5 L328.5,336.6 L329.0,336.7 L329.5,336.6 L330.0,336.5 L330.5,336.3 L331.0,336.1 L331.5,335.8 L332.0,335.6 L332.5,335.3 L333.0,335.1 L333.5,335.0 L334.0,334.9 L334.5,334.9 L335.0,335.0 L335.5,335.2 L336.0,335.4 L336.5,335.7 L337.0,336.0 L337.5,336.3 L338.0,336.6 L338.5,336.8 L339.0,337.0 L339.5,337.1 L340.0,337.2 L340.5,337.1 L341.0,337.0 L341.5,336.8 L342.0,336.6 L342.5,336.3 L343.0,336.1 L343.5,335.8 L344.0,335.7 L344.5,335.5 L345.0,335.5 L345.5,335.5 L346.0,335.6 L346.5,335.8 L347.0,336.0 L347.5,336.3 L348.0,336.6 L348.5,336.9 L349.0,337.2 L349.5,337.4 L350.0,337.6 L350.5,337.7 L351.0,337.8 L351.5,337.7 L352.0,337.6 L352.5,337.4 L353.0,337.1 L353.5,336.9 L354.0,336.6 L354.5,336.4 L355.0,336.2 L355.5,336.1 L356.0,336.0 L356.5,336.0 L357.0,336.1 L357.5,336.3 L358.0,336.6 L358.5,336.8 L359.0,337.1 L359.5,337.4 L360.0,337.7 L360.5,337.9 L361.0,338.1 L361.5,338.2 L362.0,338.2 L362.5,338.1 L363.0,337.9 L363.5,337.7 L364.0,337.5 L364.5,337.2 L365.0,336.9 L365.5,336.7 L366.0,336.5 L366.5,336.4 L367.0,336.3 L367.5,336.4 L368.0,336.5 L368.5,336.7 L369.0,336.9 L369.5,337.2 L370.0,337.5 L370.5,337.8 L371.0,338.0 L371.5,338.3 L372.0,338.4 L372.5,338.5 L373.0,338.4 L373.5,338.4 L374.0,338.2 L374.5,338.0 L375.0,337.7 L375.5,337.4 L376.0,337.2 L376.5,336.9 L377.0,336.7 L377.5,336.6 L378.0,336.6 L378.5,336.6 L379.0,336.8 L379.5,337.0 L380.0,337.2 L380.5,337.5 L381.0,337.8 L381.5,338.1 L382.0,338.3 L382.5,338.5 L383.0,338.7 L383.5,338.7 L384.0,338.7 L384.5,338.6 L385.0,338.4 L385.5,338.2 L386.0,337.9 L386.5,337.6 L387.0,337.3 L387.5,337.1 L388.0,336.9 L388.5,336.8 L389.0,336.8 L389.5,336.9 L390.0,337.0 L390.5,337.2 L391.0,337.4 L391.5,337.7 L392.0,338.0 L392.5,338.3 L393.0,338.5 L393.5,338.7 L394.0,338.8 L394.5,338.9 L395.0,338.8 L395.5,338.7 L396.0,338.5 L396.5,338.2 L397.0,338.0 L397.5,337.7 L398.0,337.4 L398.5,337.2 L399.0,337.0 L399.5,336.9 L400.0,336.9 L400.5,337.0 L401.0,337.1 L401.5,337.3 L402.0,337.6 L402.5,337.8 L403.0,338.1 L403.5,338.4 L404.0,338.6 L404.5,338.8 L405.0,338.9 L405.5,338.9 L406.0,338.8 L406.5,338.7 L407.0,338.5 L407.5,338.2 L408.0,337.9 L408.5,337.6 L409.0,337.4 L409.5,337.2 L410.0,337.0 L410.5,336.9 L411.0,336.9 L411.5,337.0 L412.0,337.1 L412.5,337.3 L413.0,337.6 L413.5,337.8 L414.0,338.1 L414.5,338.4 L415.0,338.6 L415.5,338.8 L416.0,338.8 L416.5,338.8 L417.0,338.8 L417.5,338.6 L418.0,338.4 L418.5,338.1 L419.0,337.8 L419.5,337.5 L420.0,337.3 L420.5,337.1 L421.0,336.9 L421.5,336.8 L422.0,336.8 L422.5,336.9 L423.0,337.1 L423.5,337.3 L424.0,337.5 L424.5,337.8 L425.0,338.1 L425.5,338.4 L426.0,338.6 L426.5,338.7 L427.0,338.8 L427.5,338.8 L428.0,338.7 L428.5,338.5 L429.0,338.3 L429.5,338.0 L430.0,337.7 L430.5,337.4 L431.0,337.2 L431.5,337.0 L432.0,336.8 L432.5,336.7 L433.0,336.8 L433.5,336.9 L434.0,337.0 L434.5,337.3 L435.0,337.5 L435.5,337.8 L436.0,338.1 L436.5,338.3 L437.0,338.5 L437.5,338.7 L438.0,338.7 L438.5,338.7 L439.0,338.6 L439.5,338.4 L440.0,338.2 L440.5,337.9 L441.0,337.6 L441.5,337.3 L442.0,337.1 L442.5,336.9 L443.0,336.7 L443.5,336.7 L444.0,336.7 L444.5,336.8 L445.0,337.0 L445.5,337.3 L446.0,337.5 L446.5,337.8 L447.0,338.1 L447.5,338.3 L448.0,338.5 L448.5,338.6 L449.0,338.7 L449.5,338.6 L450.0,338.5 L450.5,338.3 L451.0,338.1 L451.5,337.8 L452.0,337.5 L452.5,337.3 L453.0,337.0 L453.5,336.8 L454.0,336.7 L454.5,336.7 L455.0,336.7 L455.5,336.8 L456.0,337.0 L456.5,337.3 L457.0,337.5 L457.5,337.8 L458.0,338.1 L458.5,338.3 L459.0,338.5 L459.5,338.6 L460.0,338.7 L460.5,338.6 L461.0,338.5 L461.5,338.3 L462.0,338.0 L462.5,337.7 L463.0,337.5 L463.5,337.2 L464.0,337.0 L464.5,336.8 L465.0,336.7 L465.5,336.6 L466.0,336.7 L466.5,336.8 L467.0,337.0 L467.5,337.3 L468.0,337.6 L468.5,337.8 L469.0,338.1 L469.5,338.3 L470.0,338.5 L470.5,338.6 L471.0,338.6 L471.5,338.6 L472.0,338.4 L472.5,338.2 L473.0,338.0 L473.5,337.7 L474.0,337.4 L474.5,337.1 L475.0,336.9 L475.5,336.7 L476.0,336.6 L476.5,336.6 L477.0,336.7 L477.5,336.8 L478.0,337.1 L478.5,337.3 L479.0,337.6 L479.5,337.9 L480.0,338.1 L480.5,338.4 L481.0,338.5 L481.5,338.6 L482.0,338.6 L482.5,338.5 L483.0,338.4 L483.5,338.2 L484.0,337.9 L484.5,337.6 L485.0,337.3 L485.5,337.1 L486.0,336.9 L486.5,336.7 L487.0,336.6 L487.5,336.6 L488.0,336.7 L488.5,336.9 L489.0,337.1 L489.5,337.3 L490.0,337.6 L490.5,337.9 L491.0,338.2 L491.5,338.4 L492.0,338.5 L492.5,338.6 L493.0,338.6 L493.5,338.5 L494.0,338.3 L494.5,338.1 L495.0,337.8 L495.5,337.6 L496.0,337.3 L496.5,337.0 L497.0,336.8 L497.5,336.7 L498.0,336.6 L498.5,336.6 L499.0,336.7 L499.5,336.9 L500.0,337.1 L500.5,337.4 L501.0,337.7 L501.5,337.9 L502.0,338.2 L502.5,338.4 L503.0,338.5 L503.5,338.6 L504.0,338.6 L504.5,338.5 L505.0,338.3 L505.5,338.1 L506.0,337.8 L506.5,337.5 L507.0,337.3 L507.5,337.0 L508.0,336.8 L508.5,336.7 L509.0,336.6 L509.5,336.7 L510.0,336.8 L510.5,337.0 L511.0,337.2 L511.5,337.5 L512.0,337.8 L512.5,338.1 L513.0,338.3 L513.5,338.5 L514.0,338.6 L514.5,338.7 L515.0,338.7 L515.5,338.5 L516.0,338.4 L516.5,338.1 L517.0,337.9 L517.5,337.6 L518.0,337.3 L518.5,337.1 L519.0,336.9 L519.5,336.8 L520.0,336.8 L520.5,336.8 L521.0,336.9 L521.5,337.1 L522.0,337.4 L522.5,337.6 L523.0,337.9 L523.5,338.2 L524.0,338.5 L524.5,338.7 L525.0,338.8 L525.5,338.8 L526.0,338.8 L526.5,338.7 L527.0,338.5 L527.5,338.2 L528.0,338.0 L528.5,337.7 L529.0,337.4 L529.5,337.2 L530.0,337.0 L530.5,336.9 L531.0,336.9 L531.5,336.9 L532.0,337.1 L532.5,337.3 L533.0,337.5 L533.5,337.8 L534.0,338.1 L534.5,338.4 L535.0,338.6 L535.5,338.8 L536.0,338.9 L536.5,338.9 L537.0,338.9 L537.5,338.8 L538.0,338.6 L538.5,338.3 L539.0,338.0 L539.5,337.7 L540.0,337.5 L540.5,337.3 L541.0,337.1 L541.5,337.0 L542.0,337.0 L542.5,337.1 L543.0,337.2 L543.5,337.4 L544.0,337.7 L544.5,338.0 L545.0,338.2 L545.5,338.5 L546.0,338.7 L546.5,338.9 L547.0,339.0 L547.5,339.0 L548.0,338.9 L548.5,338.8 L549.0,338.6 L549.5,338.3 L550.0,338.0 L550.5,337.7 L551.0,337.5 L551.5,337.2 L552.0,337.1 L552.5,337.0 L553.0,337.0 L553.5,337.1 L554.0,337.2 L554.5,337.4 L555.0,337.7 L555.5,338.0 L556.0,338.3 L556.5,338.5 L557.0,338.7 L557.5,338.9 L558.0,338.9 L558.5,338.9 L559.0,338.8 L559.5,338.7 L560.0,338.4 L560.5,338.2 L561.0,337.9 L561.5,337.6 L562.0,337.3 L562.5,337.1 L563.0,337.0 L563.5,336.9 L564.0,336.9 L564.5,337.0 L565.0,337.1 L565.5,337.3 L566.0,337.6 L566.5,337.9 L567.0,338.2 L567.5,338.4 L568.0,338.6 L568.5,338.7 L569.0,338.8 L569.5,338.8 L570.0,338.6 L570.5,338.5 L571.0,338.2 L571.5,337.9 L572.0,337.7 L572.5,337.4 L573.0,337.1 L573.5,336.9 L574.0,336.7 L574.5,336.7 L575.0,336.7 L575.5,336.8 L576.0,337.0 L576.5,337.2 L577.0,337.4 L577.5,337.7 L578.0,338.0 L578.5,338.2 L579.0,338.4 L579.5,338.5 L580.0,338.6 L580.5,338.5 L581.0,338.4 L581.5,338.2 L582.0,338.0 L582.5,337.7 L583.0,337.4 L583.5,337.1 L584.0,336.8 L584.5,336.6 L585.0,336.5 L585.5,336.5 L586.0,336.5 L586.5,336.6 L587.0,336.8 L587.5,337.0 L588.0,337.3 L588.5,337.5 L589.0,337.8 L589.5,338.0 L590.0,338.2 L590.5,338.3 L591.0,338.3 L591.5,338.3 L592.0,338.1 L592.5,337.9 L593.0,337.7 L593.5,337.4 L594.0,337.1 L594.5,336.8 L595.0,336.5 L595.5,336.3 L596.0,336.2 L596.5,336.2 L597.0,336.2 L597.5,336.3 L598.0,336.5 L598.5,336.7 L599.0,337.0 L599.5,337.3 L600.0,337.5 L600.5,337.7 L601.0,337.9 L601.5,338.0 L602.0,338.0 L602.5,337.9 L603.0,337.7 L603.5,337.5 L604.0,337.2 L604.5,337.0 L605.0,336.6 L605.5,336.4 L606.0,336.1 L606.5,335.9 L607.0,335.8 L607.5,335.8 L608.0,335.8 L608.5,335.9 L609.0,336.1 L609.5,336.4 L610.0,336.6 L610.5,336.9 L611.0,337.1 L611.5,337.3 L612.0,337.5 L612.5,337.6 L613.0,337.6 L613.5,337.5 L614.0,337.3 L614.5,337.1 L615.0,336.8 L615.5,336.5 L616.0,336.2 L616.5,335.9 L617.0,335.7 L617.5,335.5 L618.0,335.4 L618.5,335.4 L619.0,335.5 L619.5,335.6 L620.0,335.8 L620.5,336.0 L621.0,336.3 L621.5,336.6 L622.0,336.8 L622.5,337.0 L623.0,337.2 L623.5,337.3 L624.0,337.2 L624.5,337.2 L625.0,337.0 L625.5,336.8 L626.0,336.5 L626.5,336.2 L627.0,335.9 L627.5,335.6 L628.0,335.4 L628.5,335.3 L629.0,335.2 L629.5,335.2 L630.0,335.3 L630.5,335.4 L631.0,335.7 L631.5,335.9 L632.0,336.2 L632.5,336.5 L633.0,336.7 L633.5,336.9 L634.0,337.1 L634.5,337.1 L635.0,337.1 L635.5,337.0 L636.0,336.9 L636.5,336.6 L637.0,336.4 L637.5,336.1 L638.0,335.8 L638.5,335.5 L639.0,335.3 L639.5,335.2 L640.0,335.1 L640.5,335.1 L641.0,335.2 L641.5,335.4 L642.0,335.6 L642.5,335.9 L643.0,336.2 L643.5,336.5 L644.0,336.7 L644.5,336.9 L645.0,337.0 L645.5,337.1 L646.0,337.0 L646.5,336.9 L647.0,336.8 L647.5,336.5 L648.0,336.2 L648.5,335.9 L649.0,335.7 L649.5,335.4 L650.0,335.2 L650.5,335.1 L651.0,335.0 L651.5,335.1 L652.0,335.2 L652.5,335.4 L653.0,335.6 L653.5,335.9 L654.0,336.2 L654.5,336.4 L655.0,336.7 L655.5,336.9 L656.0,337.0 L656.5,337.0 L657.0,337.0 L657.5,336.9 L658.0,336.7 L658.5,336.4 L659.0,336.1 L659.5,335.9 L660.0,335.6 L660.5,335.3 L661.0,335.2 L661.5,335.0 L662.0,335.0 L662.5,335.1 L663.0,335.2 L663.5,335.4 L664.0,335.6 L664.5,335.9 L665.0,336.2 L665.5,336.5 L666.0,336.7 L666.5,336.9 L667.0,337.0 L667.5,337.0 L668.0,336.9 L668.5,336.8 L669.0,336.6 L669.5,336.4" fill="none" stroke="#ff0000" stroke-width="4.4" stroke-linejoin="round" stroke-linecap="butt"/>
<path d="M62.7,147.0 L62.8,146.3 L62.9,145.6 L63.1,144.9 L63.2,144.2 L63.3,143.5 L63.5,142.8 L63.6,142.1 L63.7,141.5 L63.9,140.8 L64.0,140.1 L64.2,139.4 L64.3,138.7 L64.5,138.0 L64.6,137.3 L64.8,136.6 L64.9,135.9 L65.1,135.3 L65.3,134.6 L65.5,133.9 L65.7,133.2 L65.9,132.6 L66.2,131.9 L66.5,131.2 L66.8,130.5 L67.1,129.9 L67.5,129.3 L67.9,128.8 L68.3,128.3 L68.9,127.7 L69.6,127.4 L70.2,127.2 L70.9,127.2 L71.6,127.4 L72.3,127.5 L72.9,127.8 L73.5,128.1 L74.0,128.6 L74.4,129.2 L74.9,129.8 L75.3,130.4 L75.6,131.0 L76.0,131.6 L76.3,132.2 L76.6,132.9 L77.0,133.5 L77.3,134.2 L77.5,134.8 L77.8,135.5 L78.1,136.1 L78.4,136.7 L78.7,137.4 L78.9,138.1 L79.2,138.7 L79.5,139.4 L79.7,140.0 L80.0,140.7 L80.2,141.3 L80.5,142.0 L80.7,142.6 L81.0,143.3 L81.3,144.0 L81.5,144.6 L81.8,145.3 L82.0,145.9 L82.3,146.6 L82.5,147.2 L82.8,147.9 L83.1,148.5 L83.3,149.2 L83.6,149.9 L83.8,150.5 L84.1,151.2 L84.4,151.8 L84.6,152.5 L84.9,153.1 L85.2,153.8 L85.4,154.4 L85.7,155.1 L86.0,155.7 L86.3,156.4 L86.5,157.0 L86.8,157.7 L87.1,158.3 L87.4,159.0 L87.7,159.6 L87.9,160.3 L88.2,160.9 L88.5,161.6 L88.8,162.2 L89.0,162.9 L89.3,163.5 L89.6,164.2 L89.8,164.8 L90.1,165.5 L90.4,166.1 L90.6,166.8 L90.9,167.4 L91.1,168.1 L91.4,168.7 L91.7,169.4 L91.9,170.1 L92.2,170.7 L92.4,171.4 L92.6,172.0 L92.9,172.7 L93.1,173.4 L93.3,174.0 L93.5,174.7 L93.8,175.4 L94.0,176.0 L94.3,176.7 L94.5,177.3 L94.8,178.0 L95.1,178.6 L95.4,179.3 L95.7,179.9 L96.0,180.5 L96.3,181.2 L96.7,181.8 L97.0,182.4 L97.3,183.0 L97.7,183.7 L98.0,184.3 L98.4,184.9 L98.7,185.5 L99.1,186.1 L99.5,186.7 L99.9,187.3 L100.3,187.8 L100.7,188.4 L101.0,189.0 L101.4,189.6 L101.7,190.3 L102.0,190.9 L102.3,191.5 L102.6,192.2 L102.9,192.8 L103.2,193.5 L103.5,194.1 L103.7,194.8 L104.0,195.4 L104.3,196.0 L104.7,196.7 L105.0,197.3 L105.3,197.9 L105.6,198.6 L105.9,199.2 L106.3,199.8 L106.6,200.4 L106.9,201.1 L107.3,201.7 L107.6,202.3 L107.9,202.9 L108.3,203.5 L108.6,204.1 L109.0,204.7 L109.3,205.4 L109.7,206.0 L110.1,206.6 L110.4,207.2 L110.8,207.7 L111.2,208.3 L111.6,208.9 L112.0,209.5 L112.4,210.1 L112.9,210.6 L113.3,211.2 L113.7,211.8 L114.1,212.3 L114.5,212.9 L115.0,213.5 L115.4,214.0 L115.8,214.6 L116.2,215.2 L116.6,215.8 L117.0,216.3 L117.4,216.9 L117.8,217.5 L118.2,218.1 L118.6,218.6 L119.0,219.2 L119.4,219.8 L119.8,220.4 L120.3,220.9 L120.7,221.5 L121.1,222.1 L121.5,222.7 L121.9,223.2 L122.3,223.8 L122.7,224.4 L123.1,224.9 L123.6,225.5 L124.0,226.0 L124.4,226.6 L124.9,227.2 L125.3,227.7 L125.7,228.2 L126.2,228.8 L126.7,229.3 L127.1,229.9 L127.6,230.4 L128.1,230.9 L128.6,231.4 L129.0,231.9 L129.5,232.4 L130.0,232.9 L130.5,233.4 L131.0,233.9 L131.5,234.4 L132.0,234.9 L132.5,235.4 L133.0,236.0 L133.5,236.5 L134.0,237.0 L134.5,237.5 L135.0,238.0 L135.5,238.5 L136.0,239.0 L136.5,239.4 L137.0,239.9 L137.5,240.3 L138.1,240.8 L138.6,241.2 L139.1,241.7 L139.7,242.2 L140.2,242.7 L140.8,243.1 L141.3,243.6 L141.9,244.0 L142.5,244.4 L143.1,244.8 L143.6,245.2 L144.2,245.5 L144.8,245.9 L145.3,246.3 L145.9,246.8 L146.4,247.2 L147.0,247.7 L147.5,248.3 L148.0,248.8 L148.6,249.3 L149.1,249.7 L149.7,250.2 L150.2,250.6 L150.7,250.9 L151.3,251.3 L151.9,251.7 L152.4,252.1 L153.0,252.5 L153.6,253.0 L154.1,253.4 L154.7,253.9 L155.3,254.4 L155.9,254.9 L156.4,255.2 L157.0,255.6 L157.6,255.9 L158.2,256.2 L158.8,256.5 L159.4,256.8 L160.0,257.2 L160.6,257.6 L161.2,258.1 L161.8,258.6 L162.4,259.0 L163.0,259.4 L163.6,259.7 L164.2,260.0 L164.9,260.2 L165.5,260.4 L166.1,260.7 L166.7,261.0 L167.3,261.4 L168.0,261.8 L168.6,262.2 L169.2,262.7 L169.9,263.0 L170.5,263.3 L171.1,263.6 L171.8,263.7 L172.4,263.9 L173.1,264.1 L173.7,264.4 L174.3,264.7 L175.0,265.1 L175.6,265.6 L176.2,266.0 L176.9,266.4 L177.5,266.7 L178.2,266.9 L178.8,267.0 L179.4,267.2 L180.1,267.3 L180.7,267.6 L181.4,267.9 L182.0,268.4 L182.6,268.9 L183.2,269.3 L183.9,269.8 L184.5,270.1 L185.1,270.4 L185.7,270.6 L186.3,270.8 L187.0,271.0 L187.6,271.3 L188.2,271.6 L188.9,272.0 L189.5,272.4 L190.1,272.8 L190.8,273.1 L191.5,273.3 L192.2,273.4 L192.8,273.4 L193.5,273.4 L194.2,273.4 L194.9,273.5 L195.6,273.8 L196.3,274.1 L197.0,274.4 L197.7,274.7 L198.4,274.9 L199.1,275.0 L199.8,275.0 L200.4,275.0 L201.1,275.1 L201.8,275.3 L202.4,275.6 L203.1,276.0 L203.7,276.4 L204.4,276.8 L205.0,277.2 L205.7,277.5 L206.4,277.7 L207.0,277.8 L207.7,277.8 L208.4,277.9 L209.0,278.1 L209.7,278.3 L210.4,278.6 L211.1,278.9 L211.8,279.1 L212.5,279.3 L213.2,279.3 L213.9,279.3 L214.6,279.2 L215.3,279.1 L216.0,279.1 L216.7,279.2 L217.4,279.5 L218.1,279.8 L218.8,280.0 L219.5,280.2 L220.2,280.3 L220.8,280.3 L221.5,280.4 L222.2,280.5 L222.8,280.7 L223.5,281.0 L224.1,281.5 L224.8,282.0 L225.4,282.5 L226.1,282.9 L226.7,283.2 L227.4,283.4 L228.0,283.5 L228.7,283.5 L229.4,283.4 L230.1,283.4 L230.8,283.4 L231.5,283.5 L232.2,283.7 L232.9,283.8 L233.6,283.8 L234.3,283.7 L235.0,283.5 L235.7,283.2 L236.4,283.1 L237.1,283.1 L237.7,283.3 L238.4,283.8 L239.0,284.3 L239.7,284.8 L240.3,285.2 L241.0,285.4 L241.7,285.3 L242.4,285.1 L243.1,284.8 L243.8,284.6 L244.5,284.5 L245.2,284.6 L245.9,284.8 L246.6,285.1 L247.3,285.3 L248.0,285.5 L248.7,285.6 L249.4,285.6 L250.1,285.6 L250.7,285.6 L251.4,285.8 L252.1,286.2 L252.7,286.6 L253.4,287.1 L254.1,287.4 L254.7,287.6 L255.4,287.5 L256.1,287.3 L256.8,286.9 L257.4,286.5 L258.1,286.1 L258.8,285.8 L259.4,285.7 L260.1,285.6 L260.8,285.5 L261.5,285.4 L262.1,285.2 L262.8,284.9 L263.5,284.8 L264.1,284.7 L264.8,284.7 L265.5,285.0 L266.2,285.3 L266.8,285.8 L267.5,286.2 L268.1,286.7 L268.8,287.0 L269.4,287.4 L270.0,287.6 L270.6,287.8 L271.3,288.0 L271.9,288.2 L272.5,288.4 L273.2,288.6 L273.9,289.0 L274.5,289.4 L275.2,289.7 L275.9,290.0 L276.6,290.0 L277.3,290.0 L278.0,289.8 L278.7,289.7 L279.4,289.6 L280.1,289.6 L280.8,289.8 L281.5,290.0 L282.3,290.1 L283.0,290.2 L283.7,290.2 L284.4,290.0 L285.1,289.8 L285.8,289.6 L286.5,289.4 L287.2,289.3 L287.9,289.3 L288.6,289.4 L289.2,289.4 L289.9,289.4 L290.6,289.2 L291.3,289.0 L292.0,288.7 L292.7,288.4 L293.4,288.2 L294.1,288.1 L294.8,288.2 L295.5,288.3 L296.2,288.5 L296.9,288.5 L297.6,288.5 L298.3,288.3 L299.0,288.1 L299.7,287.9 L300.5,287.8 L301.2,287.8 L301.9,287.9 L302.6,288.1 L303.3,288.2 L304.0,288.3 L304.7,288.3 L305.4,288.2 L306.1,288.0 L306.8,287.8 L307.5,287.7 L308.2,287.7 L308.9,287.9 L309.6,288.1 L310.3,288.3 L311.0,288.4 L311.7,288.4 L312.4,288.3 L313.1,288.1 L313.8,288.0 L314.6,287.9 L315.3,288.0 L316.0,288.1 L316.7,288.3 L317.4,288.6 L318.1,288.7 L318.8,288.7 L319.5,288.7 L320.2,288.5 L320.9,288.4 L321.6,288.4 L322.3,288.5 L323.0,288.7 L323.7,288.9 L324.4,289.2 L325.1,289.4 L325.8,289.5 L326.5,289.5 L327.2,289.4 L327.8,289.4 L328.5,289.5 L329.2,289.8 L329.8,290.2 L330.5,290.6 L331.1,291.1 L331.8,291.5 L332.4,291.8 L333.1,292.0 L333.8,292.1 L334.4,292.0 L335.1,292.0 L335.8,292.0 L336.5,292.2 L337.2,292.4 L337.9,292.7 L338.6,293.0 L339.3,293.2 L340.0,293.3 L340.7,293.2 L341.4,293.1 L342.1,293.0 L342.8,293.0 L343.5,293.0 L344.2,293.2 L344.9,293.4 L345.7,293.6 L346.4,293.7 L347.1,293.7 L347.8,293.5 L348.5,293.3 L349.2,293.1 L349.9,292.9 L350.6,292.9 L351.3,292.9 L352.0,293.1 L352.7,293.2 L353.4,293.2 L354.1,293.1 L354.8,292.9 L355.5,292.6 L356.2,292.4 L356.9,292.2 L357.6,292.1 L358.3,292.1 L359.0,292.2 L359.7,292.2 L360.4,292.2 L361.1,292.0 L361.8,291.8 L362.5,291.5 L363.2,291.2 L363.9,291.0 L364.6,290.9 L365.3,290.9 L366.0,291.0 L366.6,291.2 L367.3,291.3 L368.0,291.3 L368.7,291.3 L369.4,291.2 L370.1,291.1 L370.8,291.1 L371.5,291.2 L372.2,291.5 L372.9,291.8 L373.6,292.1 L374.3,292.4 L375.0,292.6 L375.7,292.7 L376.4,292.7 L377.0,292.7 L377.7,292.7 L378.4,292.8 L379.1,293.0 L379.8,293.2 L380.5,293.6 L381.2,293.8 L381.9,294.0 L382.6,294.1 L383.3,294.1 L384.0,294.0 L384.7,294.0 L385.4,294.1 L386.1,294.2 L386.8,294.5 L387.5,294.8 L388.2,295.0 L388.9,295.2 L389.6,295.2 L390.3,295.1 L391.0,295.0 L391.7,295.0 L392.4,294.9 L393.1,295.1 L393.8,295.3 L394.5,295.5 L395.2,295.7 L395.9,295.8 L396.6,295.8 L397.3,295.7 L398.0,295.5 L398.7,295.4 L399.4,295.3 L400.1,295.3 L400.8,295.3 L401.5,295.5 L402.2,295.5 L402.9,295.5 L403.6,295.4 L404.3,295.2 L405.0,294.9 L405.7,294.7 L406.4,294.5 L407.1,294.4 L407.8,294.5 L408.5,294.6 L409.2,294.7 L409.9,294.7 L410.6,294.6 L411.3,294.4 L412.0,294.1 L412.7,293.9 L413.4,293.7 L414.1,293.6 L414.8,293.7 L415.5,293.8 L416.2,293.8 L416.9,293.8 L417.6,293.7 L418.3,293.5 L419.0,293.2 L419.7,292.9 L420.4,292.7 L421.1,292.6 L421.8,292.5 L422.5,292.5 L423.1,292.6 L423.8,292.5 L424.5,292.4 L425.2,292.2 L425.9,291.9 L426.6,291.6 L427.3,291.4 L428.0,291.3 L428.7,291.3 L429.4,291.4 L430.1,291.6 L430.8,291.6 L431.5,291.6 L432.2,291.5 L432.9,291.2 L433.6,291.0 L434.3,290.8 L435.0,290.8 L435.7,290.8 L436.4,291.0 L437.1,291.1 L437.8,291.3 L438.6,291.3 L439.3,291.2 L440.0,291.1 L440.7,291.0 L441.4,290.9 L442.1,290.9 L442.8,291.1 L443.5,291.3 L444.2,291.6 L444.9,291.8 L445.6,291.9 L446.3,292.0 L447.0,291.9 L447.6,291.9 L448.3,291.9 L449.0,292.0 L449.7,292.3 L450.4,292.6 L451.1,293.0 L451.8,293.3 L452.4,293.6 L453.1,293.8 L453.8,294.0 L454.4,294.0 L455.1,294.1 L455.8,294.2 L456.5,294.4 L457.1,294.5 L457.8,294.7 L458.5,294.8 L459.2,294.8 L459.9,294.7 L460.6,294.5 L461.3,294.2 L462.0,293.9 L462.7,293.7 L463.4,293.6 L464.1,293.7 L464.8,293.8 L465.5,293.9 L466.3,294.0 L467.0,293.9 L467.7,293.8 L468.4,293.5 L469.1,293.3 L469.8,293.1 L470.5,293.1 L471.2,293.2 L471.9,293.3 L472.6,293.5 L473.3,293.6 L474.0,293.6 L474.7,293.5 L475.4,293.4 L476.1,293.2 L476.8,293.2 L477.5,293.2 L478.2,293.4 L478.9,293.7 L479.6,293.9 L480.3,294.1 L481.0,294.2 L481.7,294.2 L482.4,294.2 L483.1,294.0 L483.8,294.0 L484.5,294.1 L485.2,294.3 L485.9,294.5 L486.6,294.8 L487.3,295.0 L488.0,295.2 L488.7,295.2 L489.4,295.1 L490.1,295.0 L490.8,294.9 L491.5,294.9 L492.2,295.0 L492.9,295.1 L493.6,295.2 L494.3,295.1 L495.0,294.9 L495.7,294.7 L496.3,294.4 L497.0,294.1 L497.7,293.9 L498.4,293.7 L499.1,293.7 L499.8,293.8 L500.6,294.0 L501.3,294.1 L502.0,294.2 L502.7,294.1 L503.4,293.9 L504.1,293.7 L504.8,293.6 L505.5,293.5 L506.2,293.6 L506.9,293.7 L507.6,293.9 L508.3,294.1 L509.0,294.1 L509.7,294.0 L510.4,293.9 L511.1,293.7 L511.8,293.6 L512.5,293.5 L513.2,293.6 L513.9,293.7 L514.6,293.9 L515.3,294.1 L516.1,294.1 L516.8,294.1 L517.5,294.0 L518.2,293.8 L518.9,293.7 L519.6,293.6 L520.3,293.7 L521.0,293.9 L521.7,294.1 L522.4,294.3 L523.1,294.4 L523.8,294.4 L524.5,294.2 L525.2,294.1 L525.9,293.9 L526.6,293.9 L527.3,294.0 L528.0,294.1 L528.7,294.3 L529.4,294.4 L530.1,294.4 L530.8,294.3 L531.5,294.0 L532.2,293.8 L532.9,293.5 L533.6,293.4 L534.3,293.3 L535.0,293.3 L535.7,293.4 L536.5,293.5 L537.2,293.5 L537.9,293.4 L538.5,293.2 L539.2,292.9 L539.9,292.8 L540.6,292.7 L541.3,292.8 L542.0,293.0 L542.7,293.3 L543.4,293.6 L544.1,293.8 L544.8,293.9 L545.5,294.0 L546.2,293.9 L546.9,293.9 L547.6,294.0 L548.3,294.1 L549.0,294.3 L549.7,294.6 L550.4,294.8 L551.1,295.0 L551.8,295.0 L552.5,294.9 L553.2,294.8 L553.9,294.7 L554.6,294.6 L555.3,294.7 L556.0,294.9 L556.7,295.1 L557.4,295.3 L558.1,295.4 L558.8,295.4 L559.6,295.3 L560.3,295.2 L561.0,295.0 L561.7,294.9 L562.3,294.9 L563.0,295.0 L563.7,295.1 L564.4,295.2 L565.1,295.1 L565.8,295.0 L566.5,294.7 L567.2,294.4 L567.9,294.0 L568.5,293.7 L569.2,293.5 L569.9,293.4 L570.6,293.3 L571.3,293.3 L572.0,293.3 L572.7,293.1 L573.4,292.9 L574.1,292.7 L574.7,292.4 L575.4,292.1 L576.1,292.0 L576.8,292.0 L577.5,292.0 L578.2,292.1 L578.9,292.2 L579.6,292.2 L580.3,292.0 L581.0,291.8 L581.7,291.5 L582.4,291.3 L583.1,291.2 L583.8,291.2 L584.5,291.3 L585.3,291.4 L586.0,291.4 L586.7,291.4 L587.4,291.3 L588.1,291.1 L588.8,290.8 L589.5,290.6 L590.2,290.5 L590.9,290.5 L591.6,290.6 L592.3,290.7 L593.0,290.8 L593.7,290.8 L594.4,290.6 L595.1,290.4 L595.8,290.2 L596.5,290.0 L597.2,289.8 L597.9,289.8 L598.6,289.9 L599.3,290.0 L600.0,290.1 L600.7,290.2 L601.4,290.1 L602.1,289.9 L602.8,289.6 L603.5,289.4 L604.2,289.3 L604.9,289.3 L605.6,289.4 L606.3,289.5 L607.0,289.6 L607.7,289.6 L608.4,289.5 L609.1,289.3 L609.8,289.1 L610.5,288.8 L611.2,288.7 L611.9,288.7 L612.6,288.8 L613.3,288.9 L614.0,289.0 L614.7,289.1 L615.5,289.0 L616.2,288.8 L616.9,288.6 L617.6,288.4 L618.3,288.3 L619.0,288.3 L619.7,288.5 L620.4,288.7 L621.1,288.8 L621.8,288.9 L622.5,288.9 L623.2,288.7 L623.9,288.5 L624.6,288.4 L625.3,288.3 L626.0,288.3 L626.7,288.5 L627.4,288.7 L628.1,288.8 L628.8,288.9 L629.5,288.9 L630.2,288.7 L630.9,288.6 L631.7,288.4 L632.4,288.3 L633.1,288.3 L633.8,288.5 L634.5,288.6 L635.2,288.8 L635.9,288.9 L636.6,288.8 L637.3,288.7 L638.0,288.5 L638.7,288.3 L639.4,288.2 L640.1,288.2 L640.8,288.3 L641.5,288.5 L642.2,288.7 L642.9,288.7 L643.6,288.7 L644.3,288.5 L645.0,288.4 L645.7,288.2 L646.4,288.1 L647.1,288.2 L647.8,288.4 L648.5,288.6 L649.2,288.9 L649.9,289.1 L650.6,289.2 L651.3,289.2 L652.0,289.2 L652.7,289.2 L653.4,289.2 L654.1,289.4 L654.8,289.6 L655.5,289.9 L656.2,290.2 L656.9,290.4 L657.6,290.5 L658.3,290.5 L659.0,290.5 L659.7,290.4 L660.4,290.4 L661.1,290.5 L661.8,290.7 L662.5,290.9 L663.2,291.1 L663.9,291.3 L664.6,291.3 L665.3,291.2 L666.0,291.0 L666.7,290.8 L667.4,290.6 L668.1,290.5 L668.8,290.5 L669.5,290.6" fill="none" stroke="#00ff00" stroke-width="4.4" stroke-linejoin="round" stroke-linecap="butt"/>
<path d="M62.5,290.0 L62.7,289.7 L63.0,289.3 L63.2,289.0 L63.5,288.7 L63.7,288.4 L63.9,288.0 L64.1,287.7 L64.4,287.3 L64.6,287.0 L64.8,286.7 L65.0,286.3 L65.2,286.0 L65.4,285.6 L65.6,285.3 L65.8,284.9 L66.0,284.6 L66.1,284.2 L66.3,283.9 L66.5,283.5 L66.6,283.1 L66.8,282.8 L66.9,282.4 L67.1,282.0 L67.2,281.6 L67.4,281.3 L67.5,280.9 L67.7,280.5 L67.8,280.1 L67.9,279.8 L68.1,279.4 L68.2,279.0 L68.4,278.6 L68.5,278.2 L68.6,277.9 L68.8,277.5 L68.9,277.1 L69.1,276.7 L69.2,276.4 L69.4,276.0 L69.5,275.6 L69.7,275.2 L69.8,274.8 L70.0,274.5 L70.1,274.1 L70.3,273.7 L70.4,273.3 L70.6,272.9 L70.7,272.6 L70.9,272.2 L71.0,271.8 L71.2,271.5 L71.4,271.1 L71.5,270.7 L71.7,270.4 L71.9,270.0 L72.1,269.7 L72.3,269.3 L72.5,269.0 L72.7,268.7 L72.9,268.3 L73.2,268.0 L73.4,267.7 L73.7,267.3 L73.9,267.0 L74.2,266.7 L74.5,266.4 L74.8,266.2 L75.1,265.9 L75.4,265.6 L75.7,265.4 L76.0,265.2 L76.4,265.0 L76.7,264.9 L77.1,264.7 L77.5,264.5 L77.9,264.3 L78.2,264.1 L78.6,263.9 L78.9,263.7 L79.2,263.5 L79.5,263.2 L79.8,262.9 L80.0,262.6 L80.3,262.3 L80.6,261.9 L80.8,261.6 L81.1,261.3 L81.4,261.0 L81.7,260.7 L82.0,260.4 L82.3,260.2 L82.6,260.0 L83.0,259.9 L83.3,259.7 L83.7,259.5 L84.1,259.4 L84.5,259.3 L84.9,259.2 L85.3,259.1 L85.7,259.1 L86.1,259.1 L86.5,259.2 L86.9,259.2 L87.3,259.3 L87.7,259.4 L88.1,259.4 L88.5,259.5 L88.9,259.6 L89.3,259.6 L89.7,259.6 L90.1,259.6 L90.5,259.5 L90.9,259.4 L91.3,259.3 L91.7,259.1 L92.1,259.0 L92.5,258.8 L92.9,258.7 L93.2,258.6 L93.6,258.6 L93.9,258.6 L94.2,258.8 L94.5,259.0 L94.8,259.3 L95.1,259.6 L95.4,260.0 L95.7,260.3 L95.9,260.7 L96.2,261.0 L96.5,261.3 L96.7,261.6 L97.0,262.0 L97.2,262.3 L97.5,262.7 L97.7,263.0 L97.9,263.4 L98.2,263.8 L98.4,264.1 L98.7,264.4 L98.9,264.7 L99.2,265.0 L99.5,265.3 L99.8,265.5 L100.0,265.6 L100.5,265.9 L101.0,266.0 L101.5,266.2 L102.0,266.2 L102.5,266.3 L103.0,266.3 L103.5,266.4 L104.0,266.6 L104.5,266.8 L105.0,267.2 L105.5,267.6 L106.0,268.2 L106.5,268.8 L107.0,269.5 L107.5,270.2 L108.0,271.0 L108.5,271.7 L109.0,272.4 L109.5,273.1 L110.0,273.6 L110.5,274.1 L111.0,274.5 L111.5,274.7 L112.0,275.0 L112.5,275.1 L113.0,275.2 L113.5,275.3 L114.0,275.4 L114.5,275.6 L115.0,275.8 L115.5,276.1 L116.0,276.5 L116.5,277.0 L117.0,277.7 L117.5,278.3 L118.0,279.1 L118.5,279.9 L119.0,280.7 L119.5,281.5 L120.0,282.2 L120.5,282.9 L121.0,283.5 L121.5,284.0 L122.0,284.4 L122.5,284.7 L123.0,285.0 L123.5,285.1 L124.0,285.3 L124.5,285.4 L125.0,285.6 L125.5,285.8 L126.0,286.0 L126.5,286.3 L127.0,286.7 L127.5,287.3 L128.0,287.9 L128.5,288.5 L129.0,289.3 L129.5,290.0 L130.0,290.8 L130.5,291.6 L131.0,292.3 L131.5,292.9 L132.0,293.5 L132.5,294.0 L133.0,294.3 L133.5,294.6 L134.0,294.8 L134.5,295.0 L135.0,295.1 L135.5,295.3 L136.0,295.4 L136.5,295.6 L137.0,295.8 L137.5,296.2 L138.0,296.6 L138.5,297.1 L139.0,297.6 L139.5,298.3 L140.0,299.0 L140.5,299.7 L141.0,300.4 L141.5,301.1 L142.0,301.7 L142.5,302.3 L143.0,302.8 L143.5,303.2 L144.0,303.4 L144.5,303.6 L145.0,303.8 L145.5,303.8 L146.0,303.9 L146.5,303.9 L147.0,304.0 L147.5,304.1 L148.0,304.3 L148.5,304.6 L149.0,304.9 L149.5,305.3 L150.0,305.9 L150.5,306.4 L151.0,307.1 L151.5,307.7 L152.0,308.3 L152.5,308.9 L153.0,309.5 L153.5,310.0 L154.0,310.3 L154.5,310.6 L155.0,310.8 L155.5,311.0 L156.0,311.0 L156.5,311.0 L157.0,311.0 L157.5,311.0 L158.0,311.0 L158.5,311.1 L159.0,311.2 L159.5,311.4 L160.0,311.7 L160.5,312.1 L161.0,312.6 L161.5,313.1 L162.0,313.7 L162.5,314.3 L163.0,314.8 L163.5,315.4 L164.0,315.8 L164.5,316.2 L165.0,316.6 L165.5,316.8 L166.0,316.9 L166.5,317.0 L167.0,317.0 L167.5,317.0 L168.0,316.9 L168.5,316.8 L169.0,316.8 L169.5,316.9 L170.0,317.0 L170.5,317.2 L171.0,317.4 L171.5,317.8 L172.0,318.2 L172.5,318.7 L173.0,319.2 L173.5,319.7 L174.0,320.3 L174.5,320.7 L175.0,321.2 L175.5,321.5 L176.0,321.8 L176.5,322.0 L177.0,322.1 L177.5,322.1 L178.0,322.0 L178.5,322.0 L179.0,321.9 L179.5,321.8 L180.0,321.8 L180.5,321.8 L181.0,321.9 L181.5,322.1 L182.0,322.3 L182.5,322.6 L183.0,323.0 L183.5,323.5 L184.0,324.0 L184.5,324.5 L185.0,325.0 L185.5,325.4 L186.0,325.8 L186.5,326.1 L187.0,326.3 L187.5,326.5 L188.0,326.5 L188.5,326.5 L189.0,326.5 L189.5,326.4 L190.0,326.3 L190.5,326.2 L191.0,326.1 L191.5,326.1 L192.0,326.2 L192.5,326.4 L193.0,326.6 L193.5,326.9 L194.0,327.3 L194.5,327.7 L195.0,328.2 L195.5,328.6 L196.0,329.1 L196.5,329.5 L197.0,329.8 L197.5,330.1 L198.0,330.3 L198.5,330.4 L199.0,330.4 L199.5,330.4 L200.0,330.3 L200.5,330.2 L201.0,330.0 L201.5,329.9 L202.0,329.9 L202.5,329.9 L203.0,329.9 L203.5,330.1 L204.0,330.3 L204.5,330.6 L205.0,331.0 L205.5,331.4 L206.0,331.8 L206.5,332.2 L207.0,332.7 L207.5,333.0 L208.0,333.3 L208.5,333.5 L209.0,333.7 L209.5,333.7 L210.0,333.7 L210.5,333.7 L211.0,333.5 L211.5,333.4 L212.0,333.2 L212.5,333.1 L213.0,333.0 L213.5,333.0 L214.0,333.0 L214.5,333.1 L215.0,333.4 L215.5,333.6 L216.0,334.0 L216.5,334.4 L217.0,334.8 L217.5,335.2 L218.0,335.6 L218.5,335.9 L219.0,336.2 L219.5,336.3 L220.0,336.5 L220.5,336.5 L221.0,336.4 L221.5,336.3 L222.0,336.2 L222.5,336.0 L223.0,335.8 L223.5,335.7 L224.0,335.6 L224.5,335.6 L225.0,335.6 L225.5,335.7 L226.0,335.9 L226.5,336.2 L227.0,336.5 L227.5,336.9 L228.0,337.3 L228.5,337.7 L229.0,338.0 L229.5,338.3 L230.0,338.6 L230.5,338.7 L231.0,338.8 L231.5,338.8 L232.0,338.7 L232.5,338.5 L233.0,338.3 L233.5,338.1 L234.0,337.9 L234.5,337.8 L235.0,337.7 L235.5,337.6 L236.0,337.6 L236.5,337.7 L237.0,337.9 L237.5,338.2 L238.0,338.5 L238.5,338.9 L239.0,339.2 L239.5,339.6 L240.0,339.9 L240.5,340.2 L241.0,340.4 L241.5,340.5 L242.0,340.5 L242.5,340.5 L243.0,340.4 L243.5,340.2 L244.0,340.0 L244.5,339.8 L245.0,339.6 L245.5,339.4 L246.0,339.3 L246.5,339.2 L247.0,339.2 L247.5,339.3 L248.0,339.5 L248.5,339.8 L249.0,340.1 L249.5,340.4 L250.0,340.8 L250.5,341.1 L251.0,341.4 L251.5,341.6 L252.0,341.8 L252.5,341.9 L253.0,341.9 L253.5,341.8 L254.0,341.7 L254.5,341.5 L255.0,341.3 L255.5,341.0 L256.0,340.8 L256.5,340.6 L257.0,340.5 L257.5,340.5 L258.0,340.5 L258.5,340.6 L259.0,340.8 L259.5,341.0 L260.0,341.3 L260.5,341.6 L261.0,342.0 L261.5,342.3 L262.0,342.6 L262.5,342.8 L263.0,342.9 L263.5,343.0 L264.0,343.0 L264.5,342.9 L265.0,342.7 L265.5,342.5 L266.0,342.3 L266.5,342.1 L267.0,341.8 L267.5,341.7 L268.0,341.5 L268.5,341.5 L269.0,341.5 L269.5,341.6 L270.0,341.8 L270.5,342.1 L271.0,342.4 L271.5,342.7 L272.0,343.0 L272.5,343.3 L273.0,343.6 L273.5,343.8 L274.0,343.9 L274.5,344.0 L275.0,344.0 L275.5,343.9 L276.0,343.7 L276.5,343.5 L277.0,343.3 L277.5,343.0 L278.0,342.8 L278.5,342.6 L279.0,342.5 L279.5,342.5 L280.0,342.5 L280.5,342.6 L281.0,342.8 L281.5,343.1 L282.0,343.4 L282.5,343.7 L283.0,344.0 L283.5,344.3 L284.0,344.6 L284.5,344.8 L285.0,344.9 L285.5,344.9 L286.0,344.9 L286.5,344.7 L287.0,344.6 L287.5,344.3 L288.0,344.1 L288.5,343.8 L289.0,343.6 L289.5,343.4 L290.0,343.3 L290.5,343.2 L291.0,343.3 L291.5,343.4 L292.0,343.6 L292.5,343.8 L293.0,344.1 L293.5,344.4 L294.0,344.7 L294.5,345.0 L295.0,345.2 L295.5,345.4 L296.0,345.5 L296.5,345.5 L297.0,345.4 L297.5,345.3 L298.0,345.0 L298.5,344.8 L299.0,344.5 L299.5,344.3 L300.0,344.0 L300.5,343.9 L301.0,343.7 L301.5,343.7 L302.0,343.7 L302.5,343.9 L303.0,344.1 L303.5,344.3 L304.0,344.6 L304.5,344.9 L305.0,345.2 L305.5,345.4 L306.0,345.7 L306.5,345.8 L307.0,345.9 L307.5,345.8 L308.0,345.7 L308.5,345.6 L309.0,345.3 L309.5,345.1 L310.0,344.8 L310.5,344.5 L311.0,344.3 L311.5,344.1 L312.0,344.0 L312.5,343.9 L313.0,344.0 L313.5,344.1 L314.0,344.3 L314.5,344.5 L315.0,344.8 L315.5,345.1 L316.0,345.4 L316.5,345.6 L317.0,345.8 L317.5,345.9 L318.0,345.9 L318.5,345.9 L319.0,345.8 L319.5,345.6 L320.0,345.4 L320.5,345.1 L321.0,344.8 L321.5,344.5 L322.0,344.3 L322.5,344.1 L323.0,344.0 L323.5,344.0 L324.0,344.0 L324.5,344.2 L325.0,344.4 L325.5,344.6 L326.0,344.9 L326.5,345.2 L327.0,345.5 L327.5,345.7 L328.0,345.9 L328.5,346.0 L329.0,346.0 L329.5,346.0 L330.0,345.9 L330.5,345.7 L331.0,345.5 L331.5,345.2 L332.0,344.9 L332.5,344.7 L333.0,344.5 L333.5,344.3 L334.0,344.3 L334.5,344.3 L335.0,344.4 L335.5,344.5 L336.0,344.8 L336.5,345.1 L337.0,345.4 L337.5,345.7 L338.0,346.0 L338.5,346.3 L339.0,346.5 L339.5,346.6 L340.0,346.6 L340.5,346.6 L341.0,346.5 L341.5,346.3 L342.0,346.1 L342.5,345.9 L343.0,345.6 L343.5,345.4 L344.0,345.2 L344.5,345.1 L345.0,345.1 L345.5,345.1 L346.0,345.2 L346.5,345.4 L347.0,345.7 L347.5,346.0 L348.0,346.3 L348.5,346.6 L349.0,346.9 L349.5,347.2 L350.0,347.4 L350.5,347.5 L351.0,347.6 L351.5,347.5 L352.0,347.4 L352.5,347.2 L353.0,347.0 L353.5,346.8 L354.0,346.5 L354.5,346.3 L355.0,346.1 L355.5,346.0 L356.0,346.0 L356.5,346.0 L357.0,346.1 L357.5,346.3 L358.0,346.6 L358.5,346.9 L359.0,347.2 L359.5,347.5 L360.0,347.8 L360.5,348.0 L361.0,348.2 L361.5,348.3 L362.0,348.3 L362.5,348.2 L363.0,348.1 L363.5,347.9 L364.0,347.6 L364.5,347.3 L365.0,347.1 L365.5,346.9 L366.0,346.7 L366.5,346.6 L367.0,346.5 L367.5,346.6 L368.0,346.7 L368.5,346.9 L369.0,347.1 L369.5,347.4 L370.0,347.7 L370.5,348.0 L371.0,348.3 L371.5,348.5 L372.0,348.7 L372.5,348.7 L373.0,348.7 L373.5,348.6 L374.0,348.5 L374.5,348.3 L375.0,348.0 L375.5,347.8 L376.0,347.5 L376.5,347.3 L377.0,347.1 L377.5,347.0 L378.0,347.0 L378.5,347.0 L379.0,347.1 L379.5,347.4 L380.0,347.6 L380.5,347.9 L381.0,348.2 L381.5,348.5 L382.0,348.8 L382.5,349.0 L383.0,349.1 L383.5,349.2 L384.0,349.1 L384.5,349.0 L385.0,348.9 L385.5,348.6 L386.0,348.4 L386.5,348.1 L387.0,347.8 L387.5,347.6 L388.0,347.4 L388.5,347.3 L389.0,347.3 L389.5,347.4 L390.0,347.5 L390.5,347.7 L391.0,348.0 L391.5,348.3 L392.0,348.6 L392.5,348.8 L393.0,349.1 L393.5,349.3 L394.0,349.4 L394.5,349.4 L395.0,349.4 L395.5,349.3 L396.0,349.1 L396.5,348.8 L397.0,348.6 L397.5,348.3 L398.0,348.0 L398.5,347.8 L399.0,347.6 L399.5,347.5 L400.0,347.5 L400.5,347.6 L401.0,347.7 L401.5,347.9 L402.0,348.2 L402.5,348.4 L403.0,348.7 L403.5,349.0 L404.0,349.2 L404.5,349.4 L405.0,349.5 L405.5,349.5 L406.0,349.4 L406.5,349.3 L407.0,349.1 L407.5,348.8 L408.0,348.5 L408.5,348.2 L409.0,348.0 L409.5,347.7 L410.0,347.6 L410.5,347.5 L411.0,347.5 L411.5,347.5 L412.0,347.7 L412.5,347.9 L413.0,348.1 L413.5,348.4 L414.0,348.7 L414.5,349.0 L415.0,349.2 L415.5,349.3 L416.0,349.4 L416.5,349.4 L417.0,349.3 L417.5,349.2 L418.0,348.9 L418.5,348.7 L419.0,348.4 L419.5,348.1 L420.0,347.8 L420.5,347.6 L421.0,347.4 L421.5,347.4 L422.0,347.4 L422.5,347.4 L423.0,347.6 L423.5,347.8 L424.0,348.1 L424.5,348.4 L425.0,348.6 L425.5,348.9 L426.0,349.1 L426.5,349.2 L427.0,349.3 L427.5,349.3 L428.0,349.2 L428.5,349.0 L429.0,348.8 L429.5,348.5 L430.0,348.2 L430.5,347.9 L431.0,347.7 L431.5,347.5 L432.0,347.3 L432.5,347.2 L433.0,347.3 L433.5,347.4 L434.0,347.5 L434.5,347.7 L435.0,348.0 L435.5,348.3 L436.0,348.6 L436.5,348.8 L437.0,349.0 L437.5,349.2 L438.0,349.2 L438.5,349.2 L439.0,349.1 L439.5,348.9 L440.0,348.7 L440.5,348.4 L441.0,348.1 L441.5,347.8 L442.0,347.6 L442.5,347.4 L443.0,347.3 L443.5,347.2 L444.0,347.2 L444.5,347.3 L445.0,347.5 L445.5,347.8 L446.0,348.0 L446.5,348.3 L447.0,348.6 L447.5,348.8 L448.0,349.0 L448.5,349.2 L449.0,349.2 L449.5,349.2 L450.0,349.0 L450.5,348.9 L451.0,348.6 L451.5,348.3 L452.0,348.1 L452.5,347.8 L453.0,347.5 L453.5,347.4 L454.0,347.2 L454.5,347.2 L455.0,347.2 L455.5,347.4 L456.0,347.6 L456.5,347.8 L457.0,348.1 L457.5,348.4 L458.0,348.6 L458.5,348.9 L459.0,349.1 L459.5,349.2 L460.0,349.2 L460.5,349.1 L461.0,349.0 L461.5,348.8 L462.0,348.6 L462.5,348.3 L463.0,348.0 L463.5,347.7 L464.0,347.5 L464.5,347.3 L465.0,347.2 L465.5,347.2 L466.0,347.3 L466.5,347.4 L467.0,347.6 L467.5,347.8 L468.0,348.1 L468.5,348.4 L469.0,348.7 L469.5,348.9 L470.0,349.1 L470.5,349.2 L471.0,349.2 L471.5,349.1 L472.0,349.0 L472.5,348.8 L473.0,348.5 L473.5,348.3 L474.0,348.0 L474.5,347.7 L475.0,347.5 L475.5,347.3 L476.0,347.2 L476.5,347.2 L477.0,347.3 L477.5,347.4 L478.0,347.6 L478.5,347.9 L479.0,348.2 L479.5,348.5 L480.0,348.7 L480.5,348.9 L481.0,349.1 L481.5,349.2 L482.0,349.2 L482.5,349.1 L483.0,349.0 L483.5,348.7 L484.0,348.5 L484.5,348.2 L485.0,347.9 L485.5,347.7 L486.0,347.4 L486.5,347.3 L487.0,347.2 L487.5,347.2 L488.0,347.3 L488.5,347.5 L489.0,347.7 L489.5,347.9 L490.0,348.2 L490.5,348.5 L491.0,348.8 L491.5,349.0 L492.0,349.1 L492.5,349.2 L493.0,349.2 L493.5,349.1 L494.0,348.9 L494.5,348.7 L495.0,348.4 L495.5,348.2 L496.0,347.9 L496.5,347.6 L497.0,347.4 L497.5,347.3 L498.0,347.2 L498.5,347.2 L499.0,347.3 L499.5,347.5 L500.0,347.7 L500.5,348.0 L501.0,348.3 L501.5,348.5 L502.0,348.8 L502.5,349.0 L503.0,349.1 L503.5,349.2 L504.0,349.2 L504.5,349.1 L505.0,348.9 L505.5,348.7 L506.0,348.4 L506.5,348.2 L507.0,347.9 L507.5,347.6 L508.0,347.4 L508.5,347.3 L509.0,347.3 L509.5,347.3 L510.0,347.4 L510.5,347.6 L511.0,347.9 L511.5,348.1 L512.0,348.4 L512.5,348.7 L513.0,349.0 L513.5,349.2 L514.0,349.3 L514.5,349.4 L515.0,349.4 L515.5,349.2 L516.0,349.1 L516.5,348.8 L517.0,348.6 L517.5,348.3 L518.0,348.0 L518.5,347.8 L519.0,347.6 L519.5,347.5 L520.0,347.5 L520.5,347.6 L521.0,347.7 L521.5,347.9 L522.0,348.1 L522.5,348.4 L523.0,348.7 L523.5,349.0 L524.0,349.3 L524.5,349.5 L525.0,349.6 L525.5,349.6 L526.0,349.6 L526.5,349.5 L527.0,349.3 L527.5,349.1 L528.0,348.8 L528.5,348.5 L529.0,348.3 L529.5,348.1 L530.0,347.9 L530.5,347.8 L531.0,347.8 L531.5,347.8 L532.0,348.0 L532.5,348.2 L533.0,348.4 L533.5,348.7 L534.0,349.0 L534.5,349.3 L535.0,349.6 L535.5,349.7 L536.0,349.9 L536.5,349.9 L537.0,349.8 L537.5,349.7 L538.0,349.5 L538.5,349.3 L539.0,349.0 L539.5,348.7 L540.0,348.5 L540.5,348.2 L541.0,348.1 L541.5,348.0 L542.0,348.0 L542.5,348.0 L543.0,348.2 L543.5,348.4 L544.0,348.7 L544.5,348.9 L545.0,349.2 L545.5,349.5 L546.0,349.7 L546.5,349.9 L547.0,350.0 L547.5,350.0 L548.0,349.9 L548.5,349.8 L549.0,349.6 L549.5,349.3 L550.0,349.0 L550.5,348.7 L551.0,348.5 L551.5,348.2 L552.0,348.1 L552.5,348.0 L553.0,348.0 L553.5,348.1 L554.0,348.2 L554.5,348.4 L555.0,348.7 L555.5,349.0 L556.0,349.2 L556.5,349.5 L557.0,349.7 L557.5,349.8 L558.0,349.9 L558.5,349.9 L559.0,349.8 L559.5,349.6 L560.0,349.4 L560.5,349.1 L561.0,348.8 L561.5,348.5 L562.0,348.3 L562.5,348.0 L563.0,347.9 L563.5,347.8 L564.0,347.8 L564.5,347.9 L565.0,348.0 L565.5,348.2 L566.0,348.5 L566.5,348.8 L567.0,349.0 L567.5,349.3 L568.0,349.5 L568.5,349.6 L569.0,349.6 L569.5,349.6 L570.0,349.5 L570.5,349.3 L571.0,349.1 L571.5,348.8 L572.0,348.5 L572.5,348.2 L573.0,347.9 L573.5,347.7 L574.0,347.5 L574.5,347.5 L575.0,347.5 L575.5,347.6 L576.0,347.7 L576.5,347.9 L577.0,348.2 L577.5,348.5 L578.0,348.7 L578.5,349.0 L579.0,349.1 L579.5,349.2 L580.0,349.3 L580.5,349.2 L581.0,349.1 L581.5,348.9 L582.0,348.6 L582.5,348.4 L583.0,348.1 L583.5,347.8 L584.0,347.5 L584.5,347.3 L585.0,347.1 L585.5,347.1 L586.0,347.1 L586.5,347.2 L587.0,347.4 L587.5,347.6 L588.0,347.9 L588.5,348.1 L589.0,348.4 L589.5,348.6 L590.0,348.8 L590.5,348.9 L591.0,348.9 L591.5,348.8 L592.0,348.7 L592.5,348.5 L593.0,348.2 L593.5,347.9 L594.0,347.6 L594.5,347.3 L595.0,347.0 L595.5,346.8 L596.0,346.7 L596.5,346.7 L597.0,346.7 L597.5,346.8 L598.0,347.0 L598.5,347.2 L599.0,347.4 L599.5,347.7 L600.0,347.9 L600.5,348.1 L601.0,348.3 L601.5,348.4 L602.0,348.4 L602.5,348.3 L603.0,348.1 L603.5,347.9 L604.0,347.6 L604.5,347.3 L605.0,347.0 L605.5,346.7 L606.0,346.5 L606.5,346.3 L607.0,346.1 L607.5,346.1 L608.0,346.1 L608.5,346.2 L609.0,346.4 L609.5,346.6 L610.0,346.9 L610.5,347.1 L611.0,347.4 L611.5,347.6 L612.0,347.7 L612.5,347.8 L613.0,347.8 L613.5,347.7 L614.0,347.5 L614.5,347.3 L615.0,347.0 L615.5,346.7 L616.0,346.4 L616.5,346.1 L617.0,345.8 L617.5,345.6 L618.0,345.5 L618.5,345.5 L619.0,345.5 L619.5,345.7 L620.0,345.8 L620.5,346.1 L621.0,346.3 L621.5,346.6 L622.0,346.8 L622.5,347.0 L623.0,347.1 L623.5,347.2 L624.0,347.2 L624.5,347.1 L625.0,346.9 L625.5,346.6 L626.0,346.4 L626.5,346.1 L627.0,345.7 L627.5,345.5 L628.0,345.2 L628.5,345.1 L629.0,345.0 L629.5,344.9 L630.0,345.0 L630.5,345.1 L631.0,345.3 L631.5,345.6 L632.0,345.8 L632.5,346.1 L633.0,346.3 L633.5,346.5 L634.0,346.6 L634.5,346.7 L635.0,346.6 L635.5,346.5 L636.0,346.3 L636.5,346.1 L637.0,345.8 L637.5,345.5 L638.0,345.1 L638.5,344.9 L639.0,344.6 L639.5,344.5 L640.0,344.4 L640.5,344.4 L641.0,344.5 L641.5,344.6 L642.0,344.8 L642.5,345.1 L643.0,345.4 L643.5,345.6 L644.0,345.9 L644.5,346.1 L645.0,346.2 L645.5,346.2 L646.0,346.2 L646.5,346.1 L647.0,345.9 L647.5,345.7 L648.0,345.4 L648.5,345.1 L649.0,344.8 L649.5,344.6 L650.0,344.4 L650.5,344.3 L651.0,344.2 L651.5,344.3 L652.0,344.4 L652.5,344.6 L653.0,344.8 L653.5,345.1 L654.0,345.4 L654.5,345.7 L655.0,345.9 L655.5,346.1 L656.0,346.3 L656.5,346.3 L657.0,346.3 L657.5,346.2 L658.0,346.0 L658.5,345.8 L659.0,345.5 L659.5,345.3 L660.0,345.0 L660.5,344.8 L661.0,344.6 L661.5,344.5 L662.0,344.5 L662.5,344.6 L663.0,344.8 L663.5,345.0 L664.0,345.2 L664.5,345.6 L665.0,345.9 L665.5,346.2 L666.0,346.4 L666.5,346.6 L667.0,346.8 L667.5,346.9 L668.0,346.8 L668.5,346.7 L669.0,346.6 L669.5,346.4" fill="none" stroke="#ff00ff" stroke-width="4.4" stroke-linejoin="round" stroke-linecap="butt"/>
</g>
<text transform="translate(365.60,426.80) scale(1.285,1)" font-size="16.4" text-anchor="middle">Time</text>
<text transform="translate(18.4,259.2) scale(1.255,1) rotate(-90)" font-size="16.1" text-anchor="start">Fish Population</text>
<rect x="502.8" y="18.7" width="151" height="75.6" fill="#fff" stroke="#262626" stroke-width="1.2"/>
<line x1="508" y1="29.7" x2="564.5" y2="29.7" stroke="#0000ff" stroke-width="4.4"/>
<text transform="translate(568.70,34.80) scale(1.255,1)" font-size="13.3" text-anchor="start">Prey-I</text>
<line x1="508" y1="47.8" x2="564.5" y2="47.8" stroke="#ff0000" stroke-width="4.4"/>
<text transform="translate(568.70,52.85) scale(1.255,1)" font-size="13.3" text-anchor="start">Prey-II</text>
<line x1="508" y1="65.8" x2="564.5" y2="65.8" stroke="#00ff00" stroke-width="4.4"/>
<text transform="translate(568.70,70.90) scale(1.255,1)" font-size="13.3" text-anchor="start">Predator-I</text>
<line x1="508" y1="83.9" x2="564.5" y2="83.9" stroke="#ff00ff" stroke-width="4.4"/>
<text transform="translate(568.70,88.95) scale(1.255,1)" font-size="13.3" text-anchor="start">Predator-II</text>
</svg>
</body></html>
